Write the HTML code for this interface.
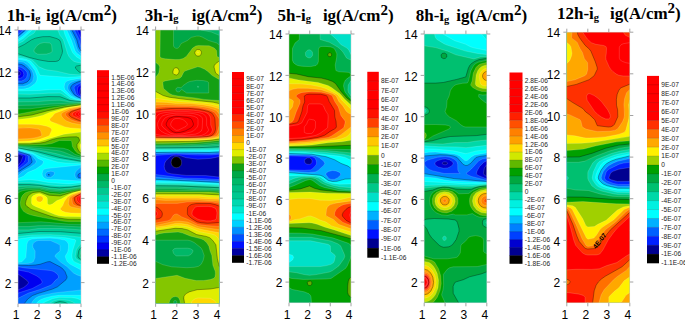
<!DOCTYPE html><html><head><meta charset="utf-8"><style>
html,body{margin:0;padding:0;background:#fff;overflow:hidden}
svg{display:block}
</style></head><body>
<svg width="685" height="322" viewBox="0 0 685 322" font-family="Liberation Sans, sans-serif">
<rect x="18" y="30" width="63.00" height="273.60" fill="#0000A0"/>
<path fill="#0000F0" d="M81.0,303.6 18.0,303.6 18.0,289.9 23.5,287.6 27.3,284.6 28.5,282.6 27.1,280.6 20.4,275.6 18.0,274.3 18.0,165.4 20.8,162.0 22.9,156.5 22.2,155.5 18.0,154.2 18.0,75.8 20.0,75.1 20.7,73.5 20.0,71.8 18.0,70.7 18.0,30.0 80.1,30.0 81.0,32.0 81.0,87.9 80.0,90.0 79.7,92.5 80.0,94.0 81.0,95.1 81.0,303.6Z"/>
<path fill="#0030FF" d="M81.0,303.6 18.0,303.6 18.0,293.1 32.1,288.6 40.6,284.1 42.2,282.6 41.9,281.1 40.8,279.1 37.0,276.1 28.7,272.1 18.0,269.9 18.0,168.0 24.4,162.0 25.4,159.5 25.8,156.5 25.3,155.5 24.4,155.0 18.0,153.2 18.0,78.4 20.0,78.4 22.1,77.5 23.4,76.0 23.8,74.5 23.4,72.5 22.0,70.5 20.0,69.3 18.0,68.8 18.0,32.2 20.8,30.0 77.2,30.0 81.0,38.4 81.0,84.8 78.0,87.0 77.4,90.0 78.0,94.0 81.0,96.3 81.0,303.6Z"/>
<path fill="#0068FF" d="M81.0,303.6 18.0,303.6 18.0,298.3 28.5,293.1 39.7,289.6 51.0,285.1 52.8,283.6 55.2,280.6 58.3,278.1 58.7,277.1 58.0,275.1 56.5,273.4 53.9,271.6 51.0,270.6 25.0,267.9 18.0,266.8 18.0,169.9 27.0,163.5 28.5,161.5 28.3,156.5 27.8,155.5 25.0,154.2 18.0,152.3 18.0,81.1 21.5,81.0 24.5,79.8 26.6,77.5 27.4,74.5 26.9,72.0 24.5,69.4 21.5,67.4 18.0,66.5 18.0,34.3 23.2,30.0 74.4,30.0 79.0,39.2 81.0,47.0 81.0,82.6 75.6,85.5 74.3,87.0 74.1,88.0 76.0,94.0 77.6,95.5 81.0,97.4 81.0,303.6Z"/>
<path fill="#00A0FF" d="M81.0,303.6 24.3,303.6 27.7,299.1 32.4,295.6 37.5,293.6 52.3,289.1 57.5,286.8 66.0,279.7 67.1,277.1 65.0,271.6 62.5,268.6 60.0,266.8 50.1,261.6 48.0,261.7 40.9,264.1 35.5,265.0 28.5,265.5 18.0,265.2 18.0,172.1 30.0,164.4 31.5,163.0 32.1,161.5 30.5,156.0 29.5,155.1 18.0,151.5 18.0,83.7 22.5,83.8 27.2,82.0 29.5,79.5 30.6,75.5 30.4,73.0 29.6,71.0 25.5,66.8 22.0,64.6 18.0,63.9 18.0,36.2 25.4,30.0 71.8,30.0 76.7,39.5 78.7,47.0 81.0,51.0 81.0,81.0 77.0,82.2 73.0,84.3 71.2,86.0 70.5,88.0 71.2,90.0 74.1,94.5 77.0,96.5 81.0,98.4 81.0,172.8 78.5,174.0 77.7,176.1 78.6,177.6 81.0,178.0 81.0,303.6ZM49.5,175.1 49.0,174.3 48.3,174.6 48.5,175.2 49.5,175.1Z"/>
<path fill="#00D0FF" d="M81.0,276.2 77.0,274.9 73.5,273.0 67.0,266.6 60.6,262.1 55.4,257.1 55.0,256.1 55.7,254.6 60.0,251.1 60.0,245.6 58.5,244.1 50.5,240.6 38.5,240.5 36.5,241.0 34.6,242.1 33.2,243.6 32.6,245.6 33.0,247.6 35.1,251.1 35.0,257.6 33.4,261.6 31.7,262.6 28.5,263.3 18.0,264.0 18.0,175.7 22.5,171.6 29.5,167.8 34.2,164.5 35.7,163.0 36.3,161.5 35.4,159.5 31.5,154.9 29.0,153.8 18.0,150.6 18.0,86.4 23.5,86.5 29.0,84.4 32.5,81.5 33.4,79.5 33.8,77.0 33.5,74.0 32.4,71.0 27.6,65.0 23.5,62.2 18.0,61.3 18.0,37.9 27.4,30.0 69.2,30.0 74.2,40.0 77.0,49.0 78.5,51.5 81.0,53.7 81.0,79.6 74.5,81.0 70.6,82.5 68.3,85.0 67.6,88.0 68.6,90.5 72.3,95.0 76.0,97.3 81.0,99.2 81.0,166.8 76.2,171.1 75.3,172.6 74.8,174.6 75.3,177.1 76.5,178.4 78.5,179.3 81.0,179.5 81.0,276.2ZM50.5,177.6 53.4,175.6 54.3,174.1 54.6,172.6 53.0,171.6 50.5,171.2 47.0,171.9 45.3,174.1 45.6,176.1 47.5,177.5 50.5,177.6ZM60.1,172.1 60.1,172.1ZM81.0,303.6 31.4,303.6 33.0,300.7 35.7,298.1 38.5,296.6 42.0,295.5 54.5,292.9 81.0,290.0 81.0,303.6Z"/>
<path fill="#00FFFF" d="M81.0,269.9 70.0,264.1 67.2,261.6 65.7,258.1 65.3,256.1 67.7,252.1 68.5,248.1 68.5,244.6 67.4,242.1 64.9,240.1 57.0,238.6 50.0,238.1 37.5,238.4 32.0,239.0 29.0,240.1 27.5,242.1 26.8,244.6 25.8,257.6 22.1,261.6 18.0,262.5 18.0,178.6 23.5,176.2 28.0,172.3 35.5,169.3 42.0,164.8 43.2,163.0 43.5,161.5 42.5,160.5 38.0,158.4 34.9,155.5 32.3,154.0 18.0,149.8 18.0,88.9 23.8,89.0 29.0,87.7 32.5,85.6 35.0,83.4 36.4,81.5 37.1,79.0 37.0,76.0 35.0,70.5 29.8,63.5 27.6,61.5 25.5,60.6 18.0,59.4 18.0,39.6 23.0,36.1 29.7,30.0 66.7,30.0 71.5,40.5 75.1,51.0 77.1,53.5 81.0,56.3 81.0,78.2 70.5,79.9 66.9,81.0 64.8,83.0 64.1,87.0 64.8,89.5 70.3,95.5 75.9,98.5 81.0,99.9 81.0,164.9 46.5,168.5 44.0,169.3 43.0,170.1 42.1,173.6 42.4,175.6 43.6,177.6 45.5,178.8 48.0,179.6 56.5,179.6 81.0,181.0 81.0,269.9ZM81.0,303.6 36.4,303.6 38.5,301.1 40.9,299.6 45.0,298.0 52.0,296.2 59.0,295.3 73.5,295.2 81.0,295.3 81.0,303.6Z"/>
<path fill="#00E8D8" d="M75.5,77.0 66.5,77.3 40.0,75.3 36.5,67.9 30.6,61.0 25.5,59.1 18.0,57.8 18.0,41.5 23.5,38.1 32.1,30.0 63.6,30.0 64.9,34.5 72.5,52.6 76.0,56.5 81.0,59.8 81.0,76.5 75.5,77.0ZM81.0,163.7 65.5,163.0 58.0,162.2 41.0,157.2 32.7,153.0 18.0,149.2 18.0,90.8 38.5,90.5 49.0,89.7 60.5,89.7 62.5,90.9 70.5,97.5 75.0,99.3 81.0,100.5 81.0,163.7ZM81.0,264.7 74.5,261.9 73.0,260.3 72.1,258.1 71.9,255.1 72.6,250.6 75.7,241.1 75.6,240.1 74.9,239.6 65.5,237.7 50.0,236.7 32.5,237.0 18.0,239.0 18.0,180.6 30.0,179.7 37.5,180.4 48.5,182.5 69.0,183.9 81.0,182.7 81.0,264.7ZM81.0,303.6 42.4,303.6 45.5,301.7 53.0,298.5 60.0,297.3 71.5,297.5 77.0,298.4 81.0,300.1 81.0,303.6Z"/>
<path fill="#00D8B0" d="M81.0,74.9 69.0,74.1 55.5,70.9 46.0,69.7 39.0,66.8 34.5,61.9 32.0,60.0 26.0,57.9 18.0,56.1 18.0,43.6 23.0,41.3 28.5,36.4 33.5,33.6 34.9,32.0 35.7,30.0 57.8,30.0 60.1,35.5 63.3,39.5 67.5,53.5 69.0,56.5 71.5,59.5 74.0,61.4 76.5,62.2 81.0,62.9 81.0,74.9ZM81.0,162.6 57.0,159.1 48.0,157.0 34.5,152.4 18.0,148.5 18.0,94.1 30.0,94.3 48.5,93.2 60.0,93.1 61.5,93.6 70.0,99.0 74.5,100.2 81.0,101.1 81.0,162.6ZM81.0,237.2 67.0,235.7 50.0,234.7 32.0,235.0 18.0,236.5 18.0,182.6 30.0,182.6 49.5,185.0 59.5,185.7 71.5,185.6 81.0,184.3 81.0,237.2ZM81.0,261.5 76.5,259.1 75.5,257.6 75.2,256.1 76.4,249.6 79.5,245.1 81.0,243.7 81.0,261.5ZM75.0,303.6 49.5,303.6 54.0,300.8 60.0,299.4 68.5,300.4 73.0,302.1 75.0,303.6Z"/>
<path fill="#00C890" d="M55.5,61.5 48.5,61.5 39.0,59.9 29.5,57.5 18.0,53.7 18.0,47.6 24.5,44.4 32.0,39.5 37.5,37.5 43.0,36.7 50.0,36.6 56.6,38.5 59.0,39.6 60.2,41.0 62.0,48.0 62.5,51.5 59.7,59.5 58.0,60.9 55.5,61.5ZM81.0,72.7 79.2,72.0 77.0,70.0 75.6,68.0 75.5,66.5 81.0,65.2 81.0,72.7ZM81.0,161.2 60.0,157.6 37.0,151.5 18.0,147.9 18.0,98.0 30.0,98.0 48.0,96.6 60.0,96.7 70.0,100.5 81.0,101.6 81.0,161.2ZM81.0,233.3 60.5,231.7 39.0,231.5 18.0,233.5 18.0,184.6 29.0,184.6 39.0,185.2 51.0,187.2 59.5,187.8 71.0,187.1 81.0,185.6 81.0,233.3ZM81.0,259.6 78.6,258.1 77.8,256.1 78.8,250.6 81.0,247.4 81.0,259.6ZM67.5,303.6 53.7,303.6 57.5,302.0 60.0,301.5 64.5,302.3 67.5,303.6Z"/>
<path fill="#00B868" d="M46.5,54.1 39.0,54.3 37.2,54.0 34.2,52.0 33.9,50.0 37.0,45.6 40.1,43.5 44.0,42.5 49.5,43.0 50.5,43.5 51.6,45.0 52.2,51.5 50.1,53.0 46.5,54.1ZM81.0,159.7 66.3,156.5 56.0,153.6 40.5,150.4 18.0,147.3 18.0,101.8 38.0,101.6 49.0,100.6 60.0,100.3 69.5,101.8 81.0,102.2 81.0,159.7ZM81.0,229.9 61.0,228.5 49.5,228.5 38.0,228.6 29.0,229.9 18.0,229.9 18.0,186.6 28.0,186.1 39.5,186.5 50.0,188.7 60.0,189.5 71.0,188.4 81.0,186.8 81.0,229.9ZM81.0,258.0 80.0,256.1 81.0,251.0 81.0,258.0Z"/>
<path fill="#00A840" d="M81.0,158.0 74.5,156.5 64.0,152.2 59.5,150.9 39.5,148.4 18.0,146.6 18.0,105.4 39.0,105.1 50.5,104.1 81.0,102.7 81.0,158.0ZM81.0,226.9 50.0,225.6 38.0,225.7 29.0,226.6 18.0,226.6 18.0,189.3 26.0,188.0 39.5,187.9 49.5,190.1 60.5,190.8 81.0,187.8 81.0,226.9Z"/>
<path fill="#00A000" d="M81.0,156.3 75.0,154.3 68.5,149.8 63.5,148.3 45.0,146.9 18.0,145.7 18.0,108.9 30.0,108.8 50.0,106.3 81.0,103.3 81.0,156.3ZM81.0,224.2 68.5,224.1 41.0,221.8 18.0,222.7 18.0,193.1 20.3,191.6 23.0,190.6 31.0,189.5 40.0,189.2 49.5,191.4 60.0,192.3 81.0,188.7 81.0,224.2Z"/>
<path fill="#55B800" d="M81.0,154.7 77.4,153.0 75.3,151.0 72.5,146.5 71.7,141.5 70.8,140.5 59.4,140.5 51.9,143.5 45.0,144.6 29.5,145.1 18.0,144.8 18.0,114.2 51.0,108.0 69.0,105.3 81.0,104.0 81.0,154.7ZM81.0,221.8 69.5,221.8 62.5,221.1 35.0,216.0 28.0,214.0 23.5,211.3 21.0,207.3 20.2,203.1 21.3,197.6 22.8,195.1 24.9,193.1 28.0,191.8 32.5,190.8 40.0,190.4 50.5,193.3 60.0,194.0 81.0,189.4 81.0,221.8Z"/>
<path fill="#A8DC00" d="M81.0,153.0 79.1,151.5 77.1,147.5 77.0,144.5 79.4,141.0 79.5,140.0 78.5,137.6 76.5,136.8 69.5,136.9 58.5,138.0 52.5,139.4 45.0,142.2 39.5,143.2 29.5,143.9 18.0,143.9 18.0,116.8 31.8,115.0 47.0,110.9 64.6,107.0 81.0,104.7 81.0,153.0ZM81.0,219.4 70.0,219.4 64.5,218.9 54.5,217.2 48.5,215.6 34.0,210.6 30.0,208.7 27.1,206.6 25.8,205.1 25.4,203.6 25.9,201.1 27.3,197.6 29.0,195.1 31.6,193.1 34.5,192.2 40.0,191.8 49.0,195.2 60.0,196.0 71.9,192.1 81.0,190.0 81.0,219.4Z"/>
<path fill="#FFFF00" d="M30.5,142.5 18.0,142.8 18.0,119.5 29.0,118.3 38.0,116.6 43.0,115.2 49.3,112.5 66.5,107.7 81.0,105.3 81.0,132.1 64.0,134.2 40.0,141.3 30.5,142.5ZM81.0,150.0 79.8,146.0 80.1,144.5 81.0,143.4 81.0,150.0ZM81.0,216.7 65.0,216.5 59.0,215.8 55.0,214.6 36.0,206.8 32.7,205.1 31.8,204.1 31.4,202.6 31.6,197.6 33.0,195.7 36.0,194.2 39.0,193.6 41.0,194.0 45.2,196.1 47.0,197.6 47.4,199.1 47.5,203.8 48.3,204.6 50.0,204.8 52.3,204.1 56.9,200.6 61.0,199.1 69.0,194.4 73.7,192.6 81.0,190.6 81.0,216.7Z"/>
<path fill="#FFC000" d="M81.0,128.7 70.5,128.0 65.0,126.9 51.5,121.8 49.9,120.5 49.6,119.0 52.8,116.0 54.1,114.0 55.7,113.0 69.3,108.0 81.0,106.0 81.0,128.7ZM29.5,141.0 18.0,141.5 18.0,124.2 31.5,124.2 39.5,124.7 47.0,126.3 50.0,127.6 51.6,129.0 51.7,130.5 49.3,135.5 48.7,136.0 39.5,139.3 29.5,141.0ZM81.0,213.3 71.0,213.0 65.5,212.2 62.2,211.1 60.0,209.1 62.7,205.6 64.3,201.6 67.4,197.1 71.5,194.6 81.0,191.2 81.0,213.3ZM40.5,202.1 38.0,201.8 36.4,200.1 36.3,197.6 38.0,196.2 41.0,196.1 42.5,197.0 43.2,198.1 42.6,200.6 40.5,202.1Z"/>
<path fill="#FF9000" d="M81.0,124.7 72.0,123.1 66.6,121.0 64.4,119.5 62.1,117.0 61.2,115.0 61.4,113.5 64.5,111.5 70.5,108.9 81.0,106.7 81.0,124.7ZM30.5,138.6 18.0,139.0 18.0,128.3 23.0,127.8 31.0,127.9 37.5,128.7 40.3,130.0 41.7,134.0 41.8,135.5 41.2,136.0 36.8,137.5 30.5,138.6ZM81.0,208.9 71.0,206.9 69.1,205.6 68.4,203.6 69.3,198.1 70.0,197.1 73.4,195.1 81.0,191.9 81.0,208.9Z"/>
<path fill="#FF6400" d="M81.0,122.7 75.0,121.3 70.5,119.5 66.0,116.0 65.3,114.5 65.5,113.5 67.3,112.0 71.5,110.0 81.0,107.5 81.0,122.7ZM81.0,207.1 76.3,206.1 73.1,204.6 72.4,203.1 71.8,198.6 72.1,197.6 73.2,196.6 81.0,192.7 81.0,207.1Z"/>
<path fill="#FF3800" d="M81.0,121.1 76.5,119.6 71.1,117.0 69.0,115.0 69.0,113.5 72.8,111.0 81.0,108.4 81.0,121.1ZM81.0,205.8 78.0,204.8 76.2,203.6 74.7,201.1 74.3,198.6 74.5,197.6 75.6,196.6 81.0,193.6 81.0,205.8Z"/>
<path fill="#FF1000" d="M81.0,119.5 73.5,116.1 72.2,114.5 72.4,113.5 75.2,111.5 81.0,109.5 81.0,119.5ZM81.0,204.5 77.9,202.1 76.9,200.6 76.4,198.6 76.7,197.6 77.7,196.6 81.0,194.6 81.0,204.5Z"/>
<path fill="#FF0000" d="M81.0,118.0 76.7,116.0 75.6,115.0 75.3,114.0 76.6,112.5 81.0,110.6 81.0,118.0ZM81.0,202.6 79.0,200.6 78.4,198.6 79.0,197.1 81.0,195.6 81.0,202.6Z"/>
<path fill="#FF0000" d="M81.0,116.6 79.1,115.5 78.3,114.0 78.9,113.0 81.0,111.8 81.0,116.6ZM81.0,200.6 80.2,198.6 81.0,196.9 81.0,200.6Z"/>
<path fill="none" stroke="#fff" stroke-opacity="0.3" stroke-width="0.5" d="M80.1,30.0 81.0,32.0M18.0,75.8 20.0,75.1 20.7,73.5 20.0,71.8 18.0,70.7M81.0,87.9 80.0,90.0 79.7,92.5 80.0,94.0 81.0,95.1M18.0,165.4 20.8,162.0 22.9,156.5 22.2,155.5 18.0,154.2M18.0,289.9 23.5,287.6 27.3,284.6 28.5,282.6 27.1,280.6 20.4,275.6 18.0,274.3M18.0,32.2 20.8,30.0M77.2,30.0 81.0,38.4M18.0,78.4 20.0,78.4 22.1,77.5 23.4,76.0 23.8,74.5 23.4,72.5 22.0,70.5 20.0,69.3 18.0,68.8M81.0,84.8 78.0,87.0 77.4,90.0 78.0,94.0 81.0,96.3M18.0,168.0 24.4,162.0 25.4,159.5 25.8,156.5 25.3,155.5 24.4,155.0 18.0,153.2M18.0,293.1 32.1,288.6 40.6,284.1 42.2,282.6 41.9,281.1 40.8,279.1 37.0,276.1 28.7,272.1 18.0,269.9M18.0,34.3 23.2,30.0M74.4,30.0 79.0,39.2 81.0,47.0M18.0,81.1 21.5,81.0 24.5,79.8 26.6,77.5 27.4,74.5 26.9,72.0 24.5,69.4 21.5,67.4 18.0,66.5M81.0,82.6 75.6,85.5 74.3,87.0 74.1,88.0 76.0,94.0 77.6,95.5 81.0,97.4M18.0,169.9 27.0,163.5 28.5,161.5 28.3,156.5 27.8,155.5 25.0,154.2 18.0,152.3M18.0,298.3 28.5,293.1 39.7,289.6 51.0,285.1 52.8,283.6 55.2,280.6 58.3,278.1 58.7,277.1 58.0,275.1 56.5,273.4 53.9,271.6 51.0,270.6 25.0,267.9 18.0,266.8M18.0,37.9 27.4,30.0M69.2,30.0 74.2,40.0 77.0,49.0 78.5,51.5 81.0,53.7M18.0,86.4 23.5,86.5 26.5,85.7 29.5,84.1 32.8,81.0 33.8,76.5 33.3,73.5 32.1,70.5 27.5,64.9 23.5,62.2 18.0,61.3M81.0,79.6 74.5,81.0 70.6,82.5 68.3,85.0 67.6,88.0 68.6,90.5 72.3,95.0 76.0,97.3 81.0,99.2M18.0,175.7 22.5,171.6 29.5,167.8 34.2,164.5 35.7,163.0 36.3,161.5 35.4,159.5 31.5,154.9 29.0,153.8 18.0,150.6M81.0,166.8 76.2,171.1 75.3,172.6 74.8,174.6 75.3,177.1 76.5,178.4 78.5,179.3 81.0,179.5M50.5,177.6 53.4,175.6 54.3,174.1 54.6,172.6 53.0,171.6 50.5,171.2 47.0,171.9 45.3,174.1 45.6,176.1 47.5,177.5 50.5,177.6M60.1,172.1 60.1,172.1M81.0,276.2 77.0,274.9 73.5,273.0 67.0,266.6 60.6,262.1 55.4,257.1 55.0,256.1 55.7,254.6 60.0,251.1 60.0,245.6 58.5,244.1 50.5,240.6 38.5,240.5 36.5,241.0 34.6,242.1 33.2,243.6 32.6,245.6 33.0,247.6 35.1,251.1 35.0,257.6 33.4,261.6 31.7,262.6 28.5,263.3 18.0,264.0M31.4,303.6 33.0,300.7 35.7,298.1 38.5,296.6 42.0,295.5 54.5,292.9 81.0,290.0M18.0,39.6 23.0,36.1 29.7,30.0M66.7,30.0 71.5,40.5 75.1,51.0 77.1,53.5 81.0,56.3M18.0,88.9 21.5,89.2 25.5,88.8 28.3,88.0 31.0,86.5 34.0,84.4 36.2,82.0 37.0,80.0 37.2,77.5 36.7,75.0 34.7,70.0 29.0,62.7 25.4,60.5 18.0,59.4M81.0,78.2 70.5,79.9 66.9,81.0 64.8,83.0 64.1,87.0 64.8,89.5 70.3,95.5 75.9,98.5 81.0,99.9M18.0,178.6 23.5,176.2 28.0,172.3 35.5,169.3 42.0,164.8 43.2,163.0 43.5,161.5 42.5,160.5 38.0,158.4 34.9,155.5 32.3,154.0 18.0,149.8M81.0,164.9 46.5,168.5 44.0,169.3 43.0,170.1 42.1,173.6 42.4,175.6 43.6,177.6 45.5,178.8 48.0,179.6 56.5,179.6 81.0,181.0M81.0,269.9 70.0,264.1 67.2,261.6 65.7,258.1 65.3,256.1 67.7,252.1 68.5,248.1 68.5,244.6 67.4,242.1 64.9,240.1 57.0,238.6 50.0,238.1 37.5,238.4 32.0,239.0 29.0,240.1 27.5,242.1 26.8,244.6 25.8,257.6 22.1,261.6 18.0,262.5M36.4,303.6 38.5,301.1 41.0,299.5 45.5,297.8 53.0,296.0 59.5,295.3 81.0,295.3M18.0,41.5 23.5,38.1 32.1,30.0M63.6,30.0 64.9,34.5 72.5,52.6 76.0,56.5 81.0,59.8M81.0,76.5 68.0,77.3 40.0,75.3 36.5,67.9 30.6,61.0 25.5,59.1 18.0,57.8M18.0,90.8 38.5,90.5 49.0,89.7 60.5,89.7 62.5,90.9 70.5,97.5 75.0,99.3 81.0,100.5M81.0,163.7 65.5,163.0 58.0,162.2 41.0,157.2 32.7,153.0 18.0,149.2M18.0,180.6 30.0,179.7 37.5,180.4 48.5,182.5 69.0,183.9 81.0,182.7M81.0,264.7 74.5,261.9 73.0,260.3 72.1,258.1 71.9,255.1 72.6,250.6 75.7,241.1 75.6,240.1 74.9,239.6 65.5,237.7 50.0,236.7 32.5,237.0 18.0,239.0M42.4,303.6 45.5,301.7 52.5,298.7 58.5,297.4 73.0,297.7 77.0,298.4 81.0,300.1M18.0,43.6 23.0,41.3 28.5,36.4 33.5,33.6 34.9,32.0 35.7,30.0M57.8,30.0 60.1,35.5 63.3,39.5 67.5,53.5 69.0,56.5 71.5,59.5 74.0,61.4 76.5,62.2 81.0,62.9M81.0,74.9 70.0,74.3 56.0,71.0 48.0,70.1 44.0,69.1 39.0,66.8 34.1,61.5 31.5,59.7 24.5,57.4 18.0,56.1M18.0,94.1 30.0,94.3 48.5,93.2 60.0,93.1 61.5,93.6 70.0,99.0 74.5,100.2 81.0,101.1M81.0,162.6 57.0,159.1 48.0,157.0 34.5,152.4 18.0,148.5M18.0,182.6 30.0,182.6 49.5,185.0 59.5,185.7 71.5,185.6 81.0,184.3M81.0,237.2 67.0,235.7 50.0,234.7 32.0,235.0 18.0,236.5M81.0,261.5 76.5,259.1 75.5,257.6 75.2,256.1 76.4,249.6 79.5,245.1 81.0,243.7M49.5,303.6 54.0,300.8 60.0,299.4 68.5,300.4 72.5,301.8 75.2,303.6M46.5,54.1 39.0,54.3 37.2,54.0 34.2,52.0 33.9,50.0 37.0,45.6 40.1,43.5 44.0,42.5 49.5,43.0 50.5,43.5 51.6,45.0 52.2,51.5 50.1,53.0 46.5,54.1M18.0,101.8 38.0,101.6 49.0,100.6 60.0,100.3 69.5,101.8 81.0,102.2M81.0,159.7 66.3,156.5 56.0,153.6 40.5,150.4 18.0,147.3M18.0,186.6 28.0,186.1 39.5,186.5 50.0,188.7 60.0,189.5 71.0,188.4 81.0,186.8M81.0,229.9 61.0,228.5 49.5,228.5 38.0,228.6 29.0,229.9 18.0,229.9M81.0,258.0 80.0,256.1 81.0,251.0M18.0,105.4 39.0,105.1 50.5,104.1 81.0,102.7M81.0,158.0 74.5,156.5 64.0,152.2 59.5,150.9 39.5,148.4 18.0,146.6M18.0,189.3 26.0,188.0 39.5,187.9 49.5,190.1 60.5,190.8 81.0,187.8M81.0,226.9 50.0,225.6 38.0,225.7 29.0,226.6 18.0,226.6M18.0,108.9 30.0,108.8 50.0,106.3 81.0,103.3M81.0,156.3 75.0,154.3 68.5,149.8 63.5,148.3 45.0,146.9 18.0,145.7M18.0,193.1 20.3,191.6 23.0,190.6 31.0,189.5 40.0,189.2 49.5,191.4 60.0,192.3 81.0,188.7M81.0,224.2 68.5,224.1 41.0,221.8 18.0,222.7M18.0,114.2 51.0,108.0 69.0,105.3 81.0,104.0M81.0,154.7 77.4,153.0 75.3,151.0 72.5,146.5 71.7,141.5 70.8,140.5 59.4,140.5 51.9,143.5 45.0,144.6 29.5,145.1 18.0,144.8M81.0,221.8 69.5,221.8 63.5,221.3 43.5,217.7 30.5,214.8 26.0,213.0 23.0,210.8 20.9,207.1 20.2,203.6 21.1,198.1 22.8,195.1 25.5,192.7 29.5,191.4 35.0,190.6 40.0,190.4 50.5,193.3 60.0,194.0 81.0,189.4M18.0,119.5 29.0,118.3 38.0,116.6 43.0,115.2 49.3,112.5 66.5,107.7 81.0,105.3M81.0,132.1 63.5,134.3 38.0,141.7 29.5,142.6 18.0,142.8M81.0,150.0 79.8,146.0 80.1,144.5 81.0,143.4M81.0,216.7 67.5,216.7 60.9,216.1 56.4,215.1 33.5,205.6 31.8,204.1 31.3,200.6 31.6,197.6 33.0,195.7 37.0,193.9 40.0,193.7 44.3,195.6 46.5,197.1 47.4,198.6 47.6,204.1 49.0,204.8 50.5,204.7 52.3,204.1 56.9,200.6 61.0,199.1 68.7,194.6 73.7,192.6 81.0,190.6M81.0,128.7 70.5,128.0 65.0,126.9 59.5,124.5 51.9,122.0 50.3,121.0 49.5,119.5 50.0,118.5 53.0,115.8 54.1,114.0 55.7,113.0 69.3,108.0 81.0,106.0M18.0,124.2 34.0,124.3 42.5,125.2 46.5,126.2 49.9,127.5 51.3,128.5 51.8,130.0 49.3,135.5 45.2,137.5 39.5,139.3 32.5,140.7 18.0,141.5M81.0,213.3 71.0,213.0 65.5,212.2 62.2,211.1 60.0,209.1 62.7,205.6 64.3,201.6 67.4,197.1 71.5,194.6 81.0,191.2M40.5,202.1 38.0,201.8 36.4,200.1 36.3,197.6 38.0,196.2 41.0,196.1 42.5,197.0 43.2,198.1 42.6,200.6 40.5,202.1M81.0,124.7 72.0,123.1 67.0,121.2 64.5,119.6 62.4,117.5 61.3,115.5 61.1,114.0 63.5,112.0 70.2,109.0 81.0,106.7M18.0,128.3 29.5,127.8 38.5,129.0 40.5,130.4 41.8,135.0 41.5,135.8 40.3,136.5 34.2,138.0 27.5,138.8 18.0,139.0M81.0,208.9 71.0,206.9 69.1,205.6 68.4,203.6 69.3,198.1 70.0,197.1 73.4,195.1 81.0,191.9M81.0,122.7 75.0,121.3 71.0,119.7 66.4,116.5 65.3,114.0 66.6,112.5 70.5,110.4 76.1,108.5 81.0,107.5M81.0,207.1 76.3,206.1 73.1,204.6 72.4,203.1 71.8,198.6 72.1,197.6 73.2,196.6 81.0,192.7M81.0,119.5 74.1,116.5 72.4,115.0 72.2,114.0 72.8,113.0 74.5,111.9 81.0,109.5M81.0,204.5 77.9,202.1 76.9,200.6 76.4,198.6 76.7,197.6 77.7,196.6 81.0,194.6M81.0,118.0 76.7,116.0 75.6,115.0 75.3,114.0 76.6,112.5 81.0,110.6M81.0,202.6 79.0,200.6 78.4,198.6 79.0,197.1 81.0,195.6M81.0,116.6 79.1,115.5 78.3,114.0 78.9,113.0 81.0,111.8M81.0,200.6 80.2,198.6 81.0,196.9"/>
<path fill="none" stroke="#000" stroke-opacity="0.55" stroke-width="0.6" d="M18.0,36.2 25.4,30.0M71.8,30.0 76.7,39.5 78.7,47.0 81.0,51.0M18.0,83.7 22.5,83.8 27.2,82.0 29.8,79.0 30.6,75.0 29.6,71.0 25.1,66.5 21.7,64.5 18.0,63.9M81.0,81.0 77.0,82.2 73.0,84.3 71.2,86.0 70.5,88.0 71.2,90.0 74.1,94.5 77.0,96.5 81.0,98.4M18.0,172.1 30.0,164.4 31.5,163.0 32.1,161.5 30.5,156.0 29.5,155.1 18.0,151.5M81.0,172.8 78.5,174.0 77.7,176.1 78.6,177.6 81.0,178.0M49.5,175.1 49.0,174.3 48.3,174.6 48.5,175.2 49.5,175.1M24.3,303.6 27.7,299.1 32.4,295.6 37.5,293.6 52.3,289.1 57.5,286.8 66.0,279.7 66.9,278.1 67.0,276.6 65.0,271.6 62.5,268.6 60.0,266.8 50.0,261.6 47.5,261.8 40.0,264.3 35.5,265.0 28.5,265.5 18.0,265.2M18.0,47.6 24.5,44.4 31.5,39.8 35.5,38.1 42.5,36.7 50.0,36.6 57.0,38.6 60.0,40.5 61.0,43.4 62.5,51.0 62.1,53.5 59.7,59.5 58.0,60.9 55.5,61.5 48.5,61.5 39.0,59.9 29.5,57.5 18.0,53.7M81.0,72.7 79.2,72.0 77.5,70.5 75.8,68.5 75.3,67.0 76.5,66.0 81.0,65.2M18.0,98.0 30.0,98.0 48.0,96.6 60.0,96.7 70.0,100.5 81.0,101.6M81.0,161.2 60.0,157.6 37.0,151.5 18.0,147.9M18.0,184.6 29.0,184.6 39.0,185.2 51.0,187.2 59.5,187.8 71.0,187.1 81.0,185.6M81.0,233.3 60.5,231.7 39.0,231.5 18.0,233.5M81.0,259.6 78.6,258.1 77.8,256.1 78.8,250.6 81.0,247.4M53.7,303.6 57.5,302.0 60.0,301.5 64.0,302.1 67.6,303.6M18.0,116.8 31.8,115.0 47.0,110.9 64.6,107.0 81.0,104.7M81.0,153.0 79.1,151.5 77.1,147.5 77.0,144.5 79.4,141.0 79.5,140.0 78.5,137.6 76.5,136.8 69.5,136.9 58.5,138.0 52.5,139.4 45.0,142.2 39.5,143.2 29.5,143.9 18.0,143.9M81.0,219.4 68.0,219.3 58.5,218.0 51.5,216.5 31.6,209.6 27.0,206.5 25.8,205.1 25.4,203.6 26.1,200.6 27.8,196.6 30.1,194.1 33.0,192.5 40.0,191.8 49.0,195.2 60.0,196.0 71.9,192.1 81.0,190.0M81.0,121.1 77.0,119.8 71.5,117.3 69.4,115.5 68.8,114.0 70.0,112.5 72.5,111.1 81.0,108.4M81.0,205.8 78.0,204.8 76.2,203.6 74.7,201.1 74.3,198.6 74.5,197.6 75.6,196.6 81.0,193.6"/>
<path d="M18.0,30v-3.5M18.0,303.6v3.5M39.0,30v-3.5M39.0,303.6v3.5M60.0,30v-3.5M60.0,303.6v3.5M81.0,30v-3.5M81.0,303.6v3.5M18,282.6h-3.5M81,282.6h3.5M18,240.5h-3.5M81,240.5h3.5M18,198.4h-3.5M81,198.4h3.5M18,156.3h-3.5M81,156.3h3.5M18,114.2h-3.5M81,114.2h3.5M18,72.1h-3.5M81,72.1h3.5M18,30.0h-3.5M81,30.0h3.5" stroke="#8a8a8a" stroke-width="0.8" fill="none"/>
<rect x="18" y="30" width="63.00" height="273.60" fill="none" stroke="#c8c8c8" stroke-width="0.5"/>
<text x="11.4" y="287.8" text-anchor="end" font-size="12">2</text>
<text x="11.4" y="245.7" text-anchor="end" font-size="12">4</text>
<text x="11.4" y="203.6" text-anchor="end" font-size="12">6</text>
<text x="11.4" y="161.5" text-anchor="end" font-size="12">8</text>
<text x="11.4" y="119.4" text-anchor="end" font-size="12">10</text>
<text x="11.4" y="77.3" text-anchor="end" font-size="12">12</text>
<text x="11.4" y="35.2" text-anchor="end" font-size="12">14</text>
<text x="16.0" y="318.6" text-anchor="middle" font-size="12">1</text>
<text x="37.0" y="318.6" text-anchor="middle" font-size="12">2</text>
<text x="58.0" y="318.6" text-anchor="middle" font-size="12">3</text>
<text x="79.0" y="318.6" text-anchor="middle" font-size="12">4</text>
<rect x="97" y="70.20" width="12.00" height="7.20" fill="#FF0000"/>
<rect x="97" y="77.10" width="12.00" height="7.20" fill="#FF0000"/>
<rect x="97" y="84.01" width="12.00" height="7.20" fill="#FF0000"/>
<rect x="97" y="90.91" width="12.00" height="7.20" fill="#FF0000"/>
<rect x="97" y="97.81" width="12.00" height="7.20" fill="#FF0000"/>
<rect x="97" y="104.72" width="12.00" height="7.20" fill="#FF0000"/>
<rect x="97" y="111.62" width="12.00" height="7.20" fill="#FF1000"/>
<rect x="97" y="118.53" width="12.00" height="7.20" fill="#FF3800"/>
<rect x="97" y="125.43" width="12.00" height="7.20" fill="#FF6400"/>
<rect x="97" y="132.33" width="12.00" height="7.20" fill="#FF9000"/>
<rect x="97" y="139.24" width="12.00" height="7.20" fill="#FFC000"/>
<rect x="97" y="146.14" width="12.00" height="7.20" fill="#FFFF00"/>
<rect x="97" y="153.04" width="12.00" height="7.20" fill="#A8DC00"/>
<rect x="97" y="159.95" width="12.00" height="7.20" fill="#55B800"/>
<rect x="97" y="166.85" width="12.00" height="7.20" fill="#00A000"/>
<rect x="97" y="173.75" width="12.00" height="7.20" fill="#00A840"/>
<rect x="97" y="180.66" width="12.00" height="7.20" fill="#00B868"/>
<rect x="97" y="187.56" width="12.00" height="7.20" fill="#00C890"/>
<rect x="97" y="194.46" width="12.00" height="7.20" fill="#00D8B0"/>
<rect x="97" y="201.37" width="12.00" height="7.20" fill="#00E8D8"/>
<rect x="97" y="208.27" width="12.00" height="7.20" fill="#00FFFF"/>
<rect x="97" y="215.18" width="12.00" height="7.20" fill="#00D0FF"/>
<rect x="97" y="222.08" width="12.00" height="7.20" fill="#00A0FF"/>
<rect x="97" y="228.98" width="12.00" height="7.20" fill="#0068FF"/>
<rect x="97" y="235.89" width="12.00" height="7.20" fill="#0030FF"/>
<rect x="97" y="242.79" width="12.00" height="7.20" fill="#0000F0"/>
<rect x="97" y="249.69" width="12.00" height="7.20" fill="#0000A0"/>
<rect x="97" y="256.60" width="12.00" height="7.20" fill="#000000"/>
<path d="M97,77.10h12.00M97,84.01h12.00M97,90.91h12.00M97,97.81h12.00M97,104.72h12.00M97,111.62h12.00M97,118.53h12.00M97,125.43h12.00M97,132.33h12.00M97,139.24h12.00M97,146.14h12.00M97,153.04h12.00M97,159.95h12.00M97,166.85h12.00M97,173.75h12.00M97,180.66h12.00M97,187.56h12.00M97,194.46h12.00M97,201.37h12.00M97,208.27h12.00M97,215.18h12.00M97,222.08h12.00M97,228.98h12.00M97,235.89h12.00M97,242.79h12.00M97,249.69h12.00M97,256.60h12.00" stroke="#000" stroke-opacity="0.25" stroke-width="0.6"/>
<text x="111.3" y="79.50" font-size="6.6" fill="#222">1.5E-06</text>
<text x="111.3" y="86.41" font-size="6.6" fill="#222">1.4E-06</text>
<text x="111.3" y="93.31" font-size="6.6" fill="#222">1.3E-06</text>
<text x="111.3" y="100.21" font-size="6.6" fill="#222">1.2E-06</text>
<text x="111.3" y="107.12" font-size="6.6" fill="#222">1.1E-06</text>
<text x="111.3" y="114.02" font-size="6.6" fill="#222">1E-06</text>
<text x="111.3" y="120.93" font-size="6.6" fill="#222">9E-07</text>
<text x="111.3" y="127.83" font-size="6.6" fill="#222">8E-07</text>
<text x="111.3" y="134.73" font-size="6.6" fill="#222">7E-07</text>
<text x="111.3" y="141.64" font-size="6.6" fill="#222">6E-07</text>
<text x="111.3" y="148.54" font-size="6.6" fill="#222">5E-07</text>
<text x="111.3" y="155.44" font-size="6.6" fill="#222">4E-07</text>
<text x="111.3" y="162.35" font-size="6.6" fill="#222">3E-07</text>
<text x="111.3" y="169.25" font-size="6.6" fill="#222">2E-07</text>
<text x="111.3" y="176.15" font-size="6.6" fill="#222">1E-07</text>
<text x="111.3" y="183.06" font-size="6.6" fill="#222">0</text>
<text x="111.3" y="189.96" font-size="6.6" fill="#222">-1E-07</text>
<text x="111.3" y="196.86" font-size="6.6" fill="#222">-2E-07</text>
<text x="111.3" y="203.77" font-size="6.6" fill="#222">-3E-07</text>
<text x="111.3" y="210.67" font-size="6.6" fill="#222">-4E-07</text>
<text x="111.3" y="217.58" font-size="6.6" fill="#222">-5E-07</text>
<text x="111.3" y="224.48" font-size="6.6" fill="#222">-6E-07</text>
<text x="111.3" y="231.38" font-size="6.6" fill="#222">-7E-07</text>
<text x="111.3" y="238.29" font-size="6.6" fill="#222">-8E-07</text>
<text x="111.3" y="245.19" font-size="6.6" fill="#222">-9E-07</text>
<text x="111.3" y="252.09" font-size="6.6" fill="#222">-1E-06</text>
<text x="111.3" y="259.00" font-size="6.6" fill="#222">-1.1E-06</text>
<text x="111.3" y="265.90" font-size="6.6" fill="#222">-1.2E-06</text>
<text x="6.8" y="20.5" font-family="Liberation Serif, serif" font-weight="bold" font-size="17">1h-i<tspan font-size="10.5" dy="1.6">g</tspan></text><text x="46.1" y="20.5" font-family="Liberation Serif, serif" font-weight="bold" font-size="17">ig(A/cm<tspan font-size="15" dy="-5.8">2</tspan><tspan dy="5.8">)</tspan></text>
<rect x="155.6" y="30" width="63.60" height="273.30" fill="#000000"/>
<path fill="#0000A0" d="M219.2,303.3 155.6,303.3 155.6,30.0 219.2,30.0 219.2,303.3ZM178.3,167.4 180.0,166.4 181.2,164.9 181.6,162.9 181.3,160.4 180.1,158.5 178.6,157.3 176.6,156.7 174.6,157.0 173.1,157.9 171.6,159.9 171.1,162.4 171.5,164.4 172.6,166.2 174.1,167.2 176.1,167.8 178.3,167.4Z"/>
<path fill="#0010FF" d="M219.2,303.3 155.6,303.3 155.6,30.0 219.2,30.0 219.2,156.7 210.7,158.4 197.7,159.2 186.1,157.7 179.1,155.3 173.6,155.3 170.6,156.4 165.8,160.9 164.6,163.4 164.2,166.4 164.6,168.9 166.2,171.9 167.9,172.9 171.1,173.8 186.1,175.4 205.7,175.6 219.2,177.1 219.2,303.3Z"/>
<path fill="#0050FF" d="M211.2,154.9 192.7,154.8 176.1,154.0 155.6,155.4 155.6,30.0 219.2,30.0 219.2,154.3 211.2,154.9ZM219.2,303.3 155.6,303.3 155.6,174.5 184.1,178.1 201.7,178.5 219.2,179.6 219.2,303.3Z"/>
<path fill="#0090FF" d="M214.7,153.4 196.7,153.6 176.1,153.1 155.6,153.7 155.6,30.0 219.2,30.0 219.2,153.1 214.7,153.4ZM219.2,303.3 155.6,303.3 155.6,177.2 181.1,179.4 219.2,181.0 219.2,303.3Z"/>
<path fill="#00D0FF" d="M212.7,152.4 155.6,152.5 155.6,30.0 219.2,30.0 219.2,152.0 212.7,152.4ZM219.2,303.3 155.6,303.3 155.6,179.3 219.2,182.4 219.2,303.3Z"/>
<path fill="#00FFFF" d="M210.7,151.4 155.6,151.4 155.6,30.0 219.2,30.0 219.2,150.9 210.7,151.4ZM219.2,303.3 155.6,303.3 155.6,180.9 190.0,181.9 219.2,183.6 219.2,303.3Z"/>
<path fill="#00E8D0" d="M217.2,149.9 208.2,150.3 155.6,150.4 155.6,30.0 219.2,30.0 219.2,149.8 217.2,149.9ZM219.2,303.3 155.6,303.3 155.6,182.4 188.7,183.0 219.2,184.6 219.2,303.3Z"/>
<path fill="#00D8B0" d="M185.1,149.4 155.6,149.5 155.6,30.0 219.2,30.0 219.2,148.8 185.1,149.4ZM219.2,303.3 155.6,303.3 155.6,183.7 187.7,184.2 219.2,185.6 219.2,303.3Z"/>
<path fill="#00C890" d="M204.2,148.4 155.6,148.7 155.6,30.0 219.2,30.0 219.2,147.8 204.2,148.4ZM219.2,303.3 155.6,303.3 155.6,184.8 183.1,185.1 219.2,186.6 219.2,303.3Z"/>
<path fill="#00C080" d="M177.1,147.9 155.6,147.9 155.6,30.0 219.2,30.0 219.2,146.8 177.1,147.9ZM219.2,303.3 155.6,303.3 155.6,185.8 179.1,186.0 219.2,187.7 219.2,303.3Z"/>
<path fill="#00B868" d="M181.1,146.9 155.6,147.1 155.6,30.0 219.2,30.0 219.2,145.6 200.7,146.6 181.1,146.9ZM219.2,303.3 155.6,303.3 155.6,187.0 178.1,187.1 195.7,188.2 210.2,188.3 219.2,188.9 219.2,303.3Z"/>
<path fill="#00A848" d="M181.6,145.9 155.6,146.2 155.6,30.0 200.8,30.0 211.2,32.0 219.2,35.3 219.2,144.0 200.7,145.5 181.6,145.9ZM198.3,87.5 198.7,86.5 197.7,86.2 197.3,87.0 198.3,87.5ZM219.2,303.3 155.6,303.3 155.6,188.4 177.6,188.4 192.7,189.4 210.2,189.5 219.2,190.1 219.2,303.3ZM188.4,255.8 191.2,254.2 192.8,251.8 192.9,250.3 190.6,248.8 187.7,248.2 176.1,248.3 174.1,248.8 172.7,250.3 173.5,253.3 176.1,255.9 188.4,255.8Z"/>
<path fill="#14A014" d="M178.6,144.9 155.6,145.0 155.6,30.0 173.5,30.0 173.5,46.0 174.5,47.5 176.1,48.3 177.6,48.2 178.6,47.6 180.6,44.1 182.1,42.8 187.4,40.5 191.7,37.1 196.2,36.1 199.2,36.1 202.1,37.0 208.6,40.5 216.7,43.0 219.2,44.9 219.2,142.2 200.7,144.1 178.6,144.9ZM208.7,93.0 208.6,82.5 207.2,81.4 203.2,80.6 196.7,80.3 189.8,81.5 187.5,82.5 183.2,85.5 181.1,87.8 177.6,87.3 176.5,88.0 175.8,89.5 176.6,91.4 178.1,92.0 179.8,91.5 181.6,89.4 186.6,93.0 208.7,93.0ZM219.2,303.3 176.8,303.3 176.8,301.3 175.1,300.3 173.7,301.3 173.8,303.3 155.6,303.3 155.6,261.3 162.6,264.6 171.6,266.8 186.6,267.7 194.2,267.3 198.5,266.3 201.2,264.3 203.2,260.3 204.2,255.8 202.4,250.3 200.9,247.8 194.2,242.5 190.6,240.8 187.7,240.2 155.6,240.2 155.6,190.2 209.7,190.7 219.2,191.4 219.2,303.3Z"/>
<path fill="#84C600" d="M163.1,143.4 155.6,143.4 155.6,77.3 158.8,73.0 159.7,67.0 158.8,65.0 155.6,62.4 155.6,30.0 160.3,30.0 160.0,56.5 161.3,58.0 165.1,58.8 175.1,59.6 179.1,59.5 183.1,58.6 186.2,56.5 192.7,48.0 195.7,46.1 198.2,45.6 209.2,45.8 214.2,48.0 216.6,50.5 217.1,56.5 219.2,57.6 219.2,79.5 212.2,75.5 207.9,71.5 204.7,69.2 200.2,67.2 197.7,66.8 185.0,71.0 183.8,72.0 181.3,77.0 179.2,78.5 165.1,80.9 163.7,81.5 162.8,82.5 163.5,88.5 169.4,93.5 172.6,94.9 178.1,96.0 195.2,97.9 204.0,99.4 219.2,100.5 219.2,140.4 210.2,141.6 195.2,142.7 163.1,143.4ZM219.2,303.3 180.3,303.3 179.8,300.3 178.8,298.3 177.6,297.1 175.6,296.5 173.1,297.0 171.3,298.3 169.9,300.3 169.0,303.3 155.6,303.3 155.6,278.5 177.1,275.3 185.1,278.3 196.2,280.6 203.7,280.5 210.2,279.6 213.9,278.3 215.0,276.8 215.4,273.8 215.2,271.3 212.9,265.3 211.8,255.3 210.0,250.8 208.9,246.3 206.8,242.8 203.7,240.0 201.0,238.8 190.7,236.2 182.6,233.0 178.1,232.0 164.1,232.9 159.6,233.7 155.6,235.0 155.6,192.0 209.2,192.1 219.2,192.9 219.2,303.3Z"/>
<path fill="#E0EE00" d="M199.2,56.1 196.7,56.0 195.0,54.0 194.8,52.5 195.3,51.0 197.2,49.5 199.7,49.7 200.7,50.5 201.5,52.0 201.1,54.5 199.2,56.1ZM219.2,75.7 215.6,73.0 214.0,67.0 214.3,65.5 215.3,64.0 219.2,61.0 219.2,75.7ZM176.6,75.0 174.1,74.5 173.2,73.5 172.8,72.0 173.6,69.1 174.6,68.1 176.1,67.7 178.1,68.4 179.2,71.0 178.6,73.6 176.6,75.0ZM190.7,141.4 155.6,141.8 155.6,91.4 163.1,95.5 169.1,97.2 183.1,99.1 213.2,102.2 219.2,103.6 219.2,139.0 210.2,140.3 190.7,141.4ZM219.2,266.5 217.4,258.8 215.9,244.8 212.7,240.4 209.7,237.7 206.2,236.4 196.7,234.6 187.8,229.9 182.1,228.6 175.1,228.3 155.6,231.2 155.6,193.8 200.2,193.9 219.2,194.9 219.2,266.5ZM219.2,303.3 184.6,303.3 183.8,296.8 184.6,295.0 186.1,293.6 189.2,291.9 192.7,290.7 197.2,289.7 210.2,289.0 219.2,287.5 219.2,303.3Z"/>
<path fill="#FFD800" d="M198.2,53.1 197.4,52.5 197.7,51.9 198.7,52.4 198.2,53.1ZM176.1,72.0 176.1,72.0ZM197.2,139.9 188.2,140.4 155.6,140.4 155.6,98.3 176.6,101.2 208.2,103.5 219.2,106.1 219.2,137.7 211.7,139.2 197.2,139.9ZM219.2,240.2 217.1,236.8 214.4,234.9 211.0,233.9 199.7,231.8 189.2,227.4 185.6,226.5 176.1,225.7 165.6,227.6 155.6,228.7 155.6,195.4 165.6,195.9 198.7,196.0 208.2,197.0 219.2,197.1 219.2,240.2ZM216.7,303.3 191.2,303.3 192.0,301.3 193.4,299.8 195.7,298.5 198.2,298.0 210.2,298.3 214.2,300.4 216.7,303.3Z"/>
<path fill="#FFA800" d="M191.2,139.4 155.6,139.4 155.6,102.1 166.6,102.4 176.1,103.6 189.2,103.6 203.2,104.9 211.7,106.4 219.2,108.8 219.2,136.2 216.2,137.5 211.2,138.4 191.2,139.4ZM219.2,232.8 202.2,229.6 196.2,227.9 187.7,224.5 181.6,223.6 175.5,223.4 165.6,225.7 155.6,227.1 155.6,197.1 165.1,198.2 198.2,198.2 207.7,199.0 219.2,199.2 219.2,232.8Z"/>
<path fill="#FF8000" d="M201.2,138.4 187.7,138.8 155.6,138.7 155.6,105.0 166.6,104.7 194.7,105.7 206.7,107.3 213.2,109.1 216.7,110.8 219.2,114.1 219.2,133.1 218.7,134.1 217.2,135.9 214.2,137.1 209.2,137.9 201.2,138.4ZM219.2,229.7 198.2,226.6 187.7,222.1 179.6,221.1 175.1,221.2 155.6,225.5 155.6,199.7 165.6,200.4 198.7,199.9 219.2,201.2 219.2,229.7Z"/>
<path fill="#FF5000" d="M198.7,137.9 177.1,138.2 155.6,138.0 155.6,107.6 166.6,106.8 193.7,107.1 204.2,108.6 211.2,110.6 214.2,112.0 215.7,113.4 219.2,118.9 219.1,125.4 216.7,133.4 215.2,135.4 212.2,136.6 207.2,137.4 198.7,137.9ZM219.2,226.4 206.2,225.6 197.7,224.4 188.2,219.5 181.7,216.9 177.1,214.0 175.1,214.2 173.6,215.0 170.6,219.4 168.1,220.8 155.6,223.0 155.6,203.4 177.1,203.4 187.1,201.9 197.2,201.5 211.5,201.9 217.8,202.9 219.2,203.4 219.2,226.4Z"/>
<path fill="#FF2800" d="M195.7,137.4 176.1,137.7 155.6,137.2 155.6,110.0 170.6,108.5 189.7,108.4 203.2,110.1 208.3,111.4 211.5,112.9 213.5,115.4 214.9,118.9 215.5,129.4 214.4,132.9 212.0,135.4 209.7,136.2 204.7,137.0 195.7,137.4ZM216.7,222.9 205.7,223.2 199.7,222.5 196.1,221.4 190.2,217.4 187.7,214.9 187.4,208.9 187.8,207.4 189.1,205.9 191.2,204.6 197.2,203.5 210.2,203.5 215.2,204.6 219.2,206.1 219.2,222.5 216.7,222.9ZM157.6,218.9 155.6,219.2 155.6,206.8 157.9,207.9 160.4,209.9 161.7,211.4 162.4,213.4 162.3,215.4 161.3,217.4 159.7,218.4 157.6,218.9Z"/>
<path fill="#FF0000" d="M188.2,136.9 175.6,137.1 155.6,136.3 155.6,112.3 161.1,111.2 170.6,110.3 188.7,110.0 201.7,111.3 205.8,112.4 208.5,113.9 210.5,117.9 210.7,124.9 212.4,129.4 212.3,130.9 211.1,132.9 208.9,134.9 206.0,135.9 199.2,136.6 188.2,136.9ZM210.7,220.9 206.2,220.9 200.7,220.0 197.7,219.1 194.7,217.2 192.5,215.4 191.9,213.9 192.3,211.4 194.0,208.4 195.2,207.3 197.2,206.5 208.2,206.4 211.9,206.9 215.5,208.4 216.5,210.4 217.0,212.9 216.4,218.4 215.2,219.9 210.7,220.9ZM155.6,216.4 155.6,210.7 157.0,212.4 157.5,213.9 156.9,215.4 155.6,216.4Z"/>
<path fill="#FF0000" d="M178.1,136.4 161.3,135.4 155.6,134.2 155.6,119.3 156.7,116.4 157.8,114.9 161.1,113.3 168.6,112.1 188.2,111.5 194.7,111.9 200.2,112.8 203.4,113.9 205.2,115.6 206.5,118.4 206.6,125.4 208.6,129.9 208.1,131.4 206.6,132.9 203.1,134.9 199.7,135.7 178.1,136.4Z"/>
<path fill="#FF0000" d="M183.1,135.4 176.1,135.6 170.1,135.0 165.0,133.4 161.1,131.2 158.5,128.4 157.5,124.9 158.0,122.4 160.3,117.9 162.6,115.9 165.6,114.8 170.1,113.8 176.1,113.2 187.7,113.1 193.2,113.5 198.2,114.8 201.1,116.4 202.2,117.9 202.6,119.4 202.2,128.4 201.4,130.9 198.6,132.9 195.7,134.1 183.1,135.4Z"/>
<path fill="#FF0000" d="M182.6,134.0 174.6,134.2 170.6,133.2 168.5,131.9 163.1,127.4 161.7,125.4 161.9,122.9 164.2,118.9 165.9,117.4 168.6,116.2 176.1,114.9 189.7,115.4 194.4,116.4 197.2,117.9 198.0,119.4 198.0,124.9 197.3,126.9 196.2,128.4 193.7,130.6 191.2,131.9 182.6,134.0Z"/>
<path fill="#FF0000" d="M180.1,132.4 176.1,132.7 173.3,131.9 170.6,130.2 167.0,126.4 166.2,124.9 166.3,123.4 167.7,120.4 169.2,118.4 173.6,116.8 179.1,116.5 187.3,117.4 190.3,118.4 191.7,119.4 193.3,123.4 193.4,124.9 192.6,126.4 190.2,128.4 185.4,130.9 180.1,132.4Z"/>
<path fill="#FF0000" d="M178.6,130.0 176.6,130.3 175.1,129.7 171.4,126.4 170.6,125.0 170.8,123.4 171.8,121.4 173.5,119.4 175.1,118.6 178.8,118.4 182.7,119.4 185.6,121.5 187.3,123.9 187.3,124.9 186.0,126.4 178.6,130.0Z"/>
<path fill="none" stroke="#fff" stroke-opacity="0.3" stroke-width="0.5" d="M178.3,167.4 180.0,166.4 181.2,164.9 181.6,162.9 181.3,160.4 180.1,158.5 178.6,157.3 176.6,156.7 174.6,157.0 173.1,157.9 171.6,159.9 171.1,162.4 171.5,164.4 172.6,166.2 174.1,167.2 176.1,167.8 178.3,167.4M219.2,156.7 210.7,158.4 197.7,159.2 186.1,157.7 179.1,155.3 173.6,155.3 170.6,156.4 165.8,160.9 164.6,163.4 164.2,166.4 164.6,168.9 166.2,171.9 167.9,172.9 171.1,173.8 186.1,175.4 205.7,175.6 219.2,177.1M219.2,154.3 209.7,155.0 197.7,155.0 176.1,154.0 155.6,155.4M155.6,174.5 184.1,178.1 201.7,178.5 219.2,179.6M219.2,153.1 209.2,153.6 176.6,153.1 155.6,153.7M155.6,177.2 181.1,179.4 219.2,181.0M219.2,150.9 209.2,151.4 155.6,151.4M155.6,180.9 190.0,181.9 219.2,183.6M219.2,149.8 208.7,150.3 155.6,150.4M155.6,182.4 188.7,183.0 219.2,184.6M219.2,148.8 203.7,149.4 155.6,149.5M155.6,183.7 187.7,184.2 219.2,185.6M219.2,147.8 200.2,148.5 155.6,148.7M155.6,184.8 183.1,185.1 219.2,186.6M219.2,145.6 199.7,146.7 155.6,147.1M155.6,187.0 178.1,187.1 195.7,188.2 210.2,188.3 219.2,188.9M200.8,30.0 211.2,32.0 219.2,35.3M198.3,87.5 198.7,86.5 197.7,86.2 197.3,87.0 198.3,87.5M219.2,144.0 199.2,145.6 155.6,146.2M155.6,188.4 177.6,188.4 192.7,189.4 210.2,189.5 219.2,190.1M188.4,255.8 191.2,254.2 192.8,251.8 192.9,250.3 190.6,248.8 187.7,248.2 176.1,248.3 174.1,248.8 172.7,250.3 173.5,253.3 176.1,255.9 188.4,255.8M173.5,30.0 173.5,46.0 174.1,47.1 175.6,48.2 177.1,48.4 178.1,48.0 179.2,47.0 181.2,43.5 187.4,40.5 191.2,37.4 196.7,36.1 199.2,36.1 202.1,37.0 208.6,40.5 216.7,43.0 219.2,44.9M208.7,93.0 208.6,82.5 207.2,81.4 203.2,80.6 196.7,80.3 189.8,81.5 187.5,82.5 183.2,85.5 181.1,87.8 177.6,87.3 176.5,88.0 175.8,89.5 176.6,91.4 178.1,92.0 179.8,91.5 181.6,89.4 186.6,93.0 208.7,93.0M219.2,142.2 198.7,144.2 177.1,145.0 155.6,145.0M155.6,190.2 209.7,190.7 219.2,191.4M155.6,261.3 162.6,264.6 171.6,266.8 186.6,267.7 194.2,267.3 198.5,266.3 201.2,264.3 203.2,260.3 204.2,255.8 202.4,250.3 200.9,247.8 194.2,242.5 190.6,240.8 187.7,240.2 155.6,240.2M176.8,303.3 176.8,301.3 175.1,300.3 173.7,301.3 173.8,303.3M160.3,30.0 160.0,56.5 161.3,58.0 165.1,58.8 175.1,59.6 179.1,59.5 183.1,58.6 186.2,56.5 192.7,48.0 195.7,46.1 198.2,45.6 209.2,45.8 214.2,48.0 216.6,50.5 217.1,56.5 219.2,57.6M155.6,77.3 158.8,73.0 159.7,67.0 158.8,65.0 155.6,62.4M219.2,79.5 212.2,75.5 207.9,71.5 204.7,69.2 200.2,67.2 197.7,66.8 185.0,71.0 183.8,72.0 181.3,77.0 179.2,78.5 165.1,80.9 163.7,81.5 162.8,82.5 163.5,88.5 169.4,93.5 172.6,94.9 178.1,96.0 195.2,97.9 204.0,99.4 219.2,100.5M219.2,140.4 209.7,141.6 194.2,142.7 177.1,143.4 155.6,143.4M155.6,192.0 209.2,192.1 219.2,192.9M155.6,278.5 177.1,275.3 185.1,278.3 196.2,280.6 203.7,280.5 210.2,279.6 213.9,278.3 215.0,276.8 215.4,273.8 215.2,271.3 212.9,265.3 211.8,255.3 210.0,250.8 208.9,246.3 206.8,242.8 203.7,240.0 201.0,238.8 190.7,236.2 182.6,233.0 178.1,232.0 164.1,232.9 159.6,233.7 155.6,235.0M180.3,303.3 179.8,300.3 178.8,298.3 177.6,297.1 175.6,296.5 173.1,297.0 171.3,298.3 169.9,300.3 169.0,303.3M198.2,53.1 197.4,52.5 197.7,51.9 198.7,52.4 198.2,53.1M176.1,72.0 176.1,72.0M155.6,98.3 176.6,101.2 208.2,103.5 219.2,106.1M219.2,137.7 210.7,139.3 190.7,140.3 155.6,140.4M155.6,195.4 165.6,195.9 198.7,196.0 208.2,197.0 219.2,197.1M219.2,240.2 217.1,236.8 214.4,234.9 211.0,233.9 199.7,231.8 189.2,227.4 185.6,226.5 176.1,225.7 165.6,227.6 155.6,228.7M191.2,303.3 192.0,301.3 193.4,299.8 195.7,298.5 198.2,298.0 210.2,298.3 214.2,300.4 216.7,303.3M155.6,102.1 166.6,102.4 176.1,103.6 189.2,103.6 203.2,104.9 211.7,106.4 219.2,108.8M219.2,136.2 214.6,137.9 205.7,138.9 188.2,139.5 155.6,139.4M155.6,197.1 165.1,198.2 198.2,198.2 207.7,199.0 219.2,199.2M219.2,232.8 202.2,229.6 196.2,227.9 187.7,224.5 181.6,223.6 175.5,223.4 165.6,225.7 155.6,227.1M155.6,105.0 166.1,104.7 176.1,105.3 188.7,105.3 202.7,106.6 209.7,108.1 215.2,109.9 217.4,111.4 219.2,114.1M219.2,133.1 217.8,135.4 216.2,136.4 208.2,138.0 188.2,138.8 155.6,138.7M155.6,199.7 165.6,200.4 198.7,199.9 219.2,201.2M219.2,229.7 198.2,226.6 187.7,222.1 179.6,221.1 175.1,221.2 155.6,225.5M155.6,107.6 165.6,106.8 187.7,106.8 202.2,108.2 210.2,110.2 214.1,111.9 215.7,113.4 218.7,117.9 219.2,119.4 219.1,125.4 217.5,131.9 215.2,135.4 212.9,136.4 206.2,137.5 194.2,138.1 155.6,138.0M155.6,203.4 177.1,203.4 187.1,201.9 198.2,201.5 212.7,202.0 219.2,203.4M219.2,226.4 206.2,225.6 197.7,224.4 188.2,219.5 181.7,216.9 177.1,214.0 175.1,214.2 173.6,215.0 170.6,219.4 168.1,220.8 155.6,223.0M155.6,112.3 163.1,111.0 176.6,110.0 193.7,110.2 204.7,112.1 207.9,113.4 210.0,116.4 210.7,118.9 210.7,124.9 212.5,129.9 211.5,132.4 208.9,134.9 203.2,136.3 177.1,137.1 155.6,136.3M210.7,220.9 206.2,220.9 200.7,220.0 197.7,219.1 194.7,217.2 192.5,215.4 191.9,213.9 192.3,211.4 194.0,208.4 195.2,207.3 197.2,206.5 208.2,206.4 211.9,206.9 215.5,208.4 216.5,210.4 217.0,212.9 216.4,218.4 215.2,219.9 210.7,220.9M155.6,210.7 157.0,212.4 157.5,213.9 156.9,215.4 155.6,216.4M155.6,119.3 156.7,116.4 158.1,114.7 160.6,113.5 164.1,112.7 174.1,111.7 186.6,111.5 198.7,112.5 203.4,113.9 205.8,116.4 206.6,118.9 206.6,125.4 208.6,129.9 207.7,131.9 205.1,133.9 201.6,135.4 198.2,135.9 174.6,136.4 161.3,135.4 155.6,134.2M183.1,135.4 176.1,135.6 170.1,135.0 165.0,133.4 161.1,131.2 158.5,128.4 157.5,124.9 158.0,122.4 160.3,117.9 162.6,115.9 165.6,114.8 170.1,113.8 176.1,113.2 187.7,113.1 193.2,113.5 198.2,114.8 201.1,116.4 202.2,117.9 202.6,119.4 202.2,128.4 201.4,130.9 198.6,132.9 195.7,134.1 183.1,135.4M182.6,134.0 174.6,134.2 170.6,133.2 168.5,131.9 163.1,127.4 161.7,125.4 161.9,122.9 164.2,118.9 165.9,117.4 168.6,116.2 176.1,114.9 189.7,115.4 194.4,116.4 197.2,117.9 198.0,119.4 198.0,124.9 197.3,126.9 196.2,128.4 193.7,130.6 191.2,131.9 182.6,134.0M178.6,130.0 176.6,130.3 175.1,129.7 171.4,126.4 170.6,125.0 170.8,123.4 171.8,121.4 173.5,119.4 175.1,118.6 178.8,118.4 182.7,119.4 185.6,121.5 187.3,123.9 187.3,124.9 186.0,126.4 178.6,130.0"/>
<path fill="none" stroke="#000" stroke-opacity="0.55" stroke-width="0.6" d="M219.2,152.0 209.2,152.5 176.6,152.2 155.6,152.5M155.6,179.3 219.2,182.4M219.2,146.8 199.7,147.6 155.6,147.9M155.6,185.8 179.1,186.0 219.2,187.7M199.2,56.1 196.7,56.0 195.0,54.0 194.8,52.5 195.3,51.0 197.2,49.5 199.7,49.7 200.7,50.5 201.5,52.0 201.1,54.5 199.2,56.1M219.2,75.7 215.6,73.0 214.0,67.0 214.3,65.5 215.3,64.0 219.2,61.0M176.6,75.0 174.1,74.5 173.2,73.5 172.8,72.0 173.6,69.1 174.6,68.1 176.1,67.7 178.1,68.4 179.2,71.0 178.6,73.6 176.6,75.0M155.6,91.4 163.1,95.5 169.1,97.2 183.1,99.1 213.2,102.2 219.2,103.6M219.2,139.0 210.2,140.3 191.7,141.4 155.6,141.8M155.6,193.8 200.2,193.9 219.2,194.9M219.2,266.5 217.4,258.8 215.9,244.8 212.7,240.4 209.7,237.7 206.2,236.4 196.7,234.6 187.8,229.9 182.1,228.6 175.1,228.3 155.6,231.2M184.6,303.3 183.7,298.3 184.0,296.3 185.6,294.0 189.2,291.9 197.2,289.7 210.2,289.0 219.2,287.5M155.6,110.0 170.6,108.5 188.7,108.4 199.2,109.3 208.3,111.4 212.2,113.4 214.5,117.4 214.9,118.9 215.5,129.4 214.7,132.4 212.7,134.9 210.8,135.9 206.7,136.7 184.1,137.6 155.6,137.2M219.2,222.5 207.7,223.3 201.2,222.7 197.2,221.8 191.7,218.5 188.0,215.4 187.4,213.9 187.4,209.9 187.8,207.4 189.7,205.4 191.8,204.4 195.7,203.6 210.2,203.5 215.2,204.6 219.2,206.1M155.6,206.8 158.1,208.0 160.9,210.4 161.9,211.9 162.4,213.9 161.9,216.4 160.7,217.9 158.6,218.7 155.6,219.2M180.1,132.4 176.1,132.7 173.3,131.9 170.6,130.2 167.0,126.4 166.2,124.9 166.3,123.4 167.7,120.4 169.2,118.4 173.6,116.8 179.1,116.5 187.3,117.4 190.3,118.4 191.7,119.4 193.3,123.4 193.4,124.9 192.6,126.4 190.2,128.4 185.4,130.9 180.1,132.4"/>
<path d="M155.6,30v-3.5M155.6,303.3v3.5M176.8,30v-3.5M176.8,303.3v3.5M198.0,30v-3.5M198.0,303.3v3.5M219.2,30v-3.5M219.2,303.3v3.5M155.6,282.3h-3.5M219.2,282.3h3.5M155.6,240.2h-3.5M219.2,240.2h3.5M155.6,198.2h-3.5M219.2,198.2h3.5M155.6,156.1h-3.5M219.2,156.1h3.5M155.6,114.1h-3.5M219.2,114.1h3.5M155.6,72.0h-3.5M219.2,72.0h3.5M155.6,30.0h-3.5M219.2,30.0h3.5" stroke="#8a8a8a" stroke-width="0.8" fill="none"/>
<rect x="155.6" y="30" width="63.60" height="273.30" fill="none" stroke="#c8c8c8" stroke-width="0.5"/>
<text x="149.0" y="287.5" text-anchor="end" font-size="12">2</text>
<text x="149.0" y="245.4" text-anchor="end" font-size="12">4</text>
<text x="149.0" y="203.4" text-anchor="end" font-size="12">6</text>
<text x="149.0" y="161.3" text-anchor="end" font-size="12">8</text>
<text x="149.0" y="119.3" text-anchor="end" font-size="12">10</text>
<text x="149.0" y="77.2" text-anchor="end" font-size="12">12</text>
<text x="149.0" y="35.2" text-anchor="end" font-size="12">14</text>
<text x="153.6" y="318.6" text-anchor="middle" font-size="12">1</text>
<text x="174.8" y="318.6" text-anchor="middle" font-size="12">2</text>
<text x="196.0" y="318.6" text-anchor="middle" font-size="12">3</text>
<text x="217.2" y="318.6" text-anchor="middle" font-size="12">4</text>
<rect x="232" y="72.00" width="12.00" height="7.36" fill="#FF0000"/>
<rect x="232" y="79.06" width="12.00" height="7.36" fill="#FF0000"/>
<rect x="232" y="86.11" width="12.00" height="7.36" fill="#FF0000"/>
<rect x="232" y="93.17" width="12.00" height="7.36" fill="#FF0000"/>
<rect x="232" y="100.22" width="12.00" height="7.36" fill="#FF0000"/>
<rect x="232" y="107.28" width="12.00" height="7.36" fill="#FF0000"/>
<rect x="232" y="114.33" width="12.00" height="7.36" fill="#FF2800"/>
<rect x="232" y="121.39" width="12.00" height="7.36" fill="#FF5000"/>
<rect x="232" y="128.44" width="12.00" height="7.36" fill="#FF8000"/>
<rect x="232" y="135.50" width="12.00" height="7.36" fill="#FFA800"/>
<rect x="232" y="142.56" width="12.00" height="7.36" fill="#FFD800"/>
<rect x="232" y="149.61" width="12.00" height="7.36" fill="#E0EE00"/>
<rect x="232" y="156.67" width="12.00" height="7.36" fill="#84C600"/>
<rect x="232" y="163.72" width="12.00" height="7.36" fill="#14A014"/>
<rect x="232" y="170.78" width="12.00" height="7.36" fill="#00A848"/>
<rect x="232" y="177.83" width="12.00" height="7.36" fill="#00B868"/>
<rect x="232" y="184.89" width="12.00" height="7.36" fill="#00C080"/>
<rect x="232" y="191.94" width="12.00" height="7.36" fill="#00C890"/>
<rect x="232" y="199.00" width="12.00" height="7.36" fill="#00D8B0"/>
<rect x="232" y="206.06" width="12.00" height="7.36" fill="#00E8D0"/>
<rect x="232" y="213.11" width="12.00" height="7.36" fill="#00FFFF"/>
<rect x="232" y="220.17" width="12.00" height="7.36" fill="#00D0FF"/>
<rect x="232" y="227.22" width="12.00" height="7.36" fill="#0090FF"/>
<rect x="232" y="234.28" width="12.00" height="7.36" fill="#0050FF"/>
<rect x="232" y="241.33" width="12.00" height="7.36" fill="#0010FF"/>
<rect x="232" y="248.39" width="12.00" height="7.36" fill="#0000A0"/>
<rect x="232" y="255.44" width="12.00" height="7.36" fill="#000000"/>
<path d="M232,79.06h12.00M232,86.11h12.00M232,93.17h12.00M232,100.22h12.00M232,107.28h12.00M232,114.33h12.00M232,121.39h12.00M232,128.44h12.00M232,135.50h12.00M232,142.56h12.00M232,149.61h12.00M232,156.67h12.00M232,163.72h12.00M232,170.78h12.00M232,177.83h12.00M232,184.89h12.00M232,191.94h12.00M232,199.00h12.00M232,206.06h12.00M232,213.11h12.00M232,220.17h12.00M232,227.22h12.00M232,234.28h12.00M232,241.33h12.00M232,248.39h12.00M232,255.44h12.00" stroke="#000" stroke-opacity="0.25" stroke-width="0.6"/>
<text x="246.3" y="81.46" font-size="6.6" fill="#222">9E-07</text>
<text x="246.3" y="88.51" font-size="6.6" fill="#222">8E-07</text>
<text x="246.3" y="95.57" font-size="6.6" fill="#222">7E-07</text>
<text x="246.3" y="102.62" font-size="6.6" fill="#222">6E-07</text>
<text x="246.3" y="109.68" font-size="6.6" fill="#222">5E-07</text>
<text x="246.3" y="116.73" font-size="6.6" fill="#222">4E-07</text>
<text x="246.3" y="123.79" font-size="6.6" fill="#222">3E-07</text>
<text x="246.3" y="130.84" font-size="6.6" fill="#222">2E-07</text>
<text x="246.3" y="137.90" font-size="6.6" fill="#222">1E-07</text>
<text x="246.3" y="144.96" font-size="6.6" fill="#222">0</text>
<text x="246.3" y="152.01" font-size="6.6" fill="#222">-1E-07</text>
<text x="246.3" y="159.07" font-size="6.6" fill="#222">-2E-07</text>
<text x="246.3" y="166.12" font-size="6.6" fill="#222">-3E-07</text>
<text x="246.3" y="173.18" font-size="6.6" fill="#222">-4E-07</text>
<text x="246.3" y="180.23" font-size="6.6" fill="#222">-5E-07</text>
<text x="246.3" y="187.29" font-size="6.6" fill="#222">-6E-07</text>
<text x="246.3" y="194.34" font-size="6.6" fill="#222">-7E-07</text>
<text x="246.3" y="201.40" font-size="6.6" fill="#222">-8E-07</text>
<text x="246.3" y="208.46" font-size="6.6" fill="#222">-9E-07</text>
<text x="246.3" y="215.51" font-size="6.6" fill="#222">-1E-06</text>
<text x="246.3" y="222.57" font-size="6.6" fill="#222">-1.1E-06</text>
<text x="246.3" y="229.62" font-size="6.6" fill="#222">-1.2E-06</text>
<text x="246.3" y="236.68" font-size="6.6" fill="#222">-1.3E-06</text>
<text x="246.3" y="243.73" font-size="6.6" fill="#222">-1.4E-06</text>
<text x="246.3" y="250.79" font-size="6.6" fill="#222">-1.5E-06</text>
<text x="246.3" y="257.84" font-size="6.6" fill="#222">-1.6E-06</text>
<text x="246.3" y="264.90" font-size="6.6" fill="#222">-1.7E-06</text>
<text x="144.8" y="20.7" font-family="Liberation Serif, serif" font-weight="bold" font-size="17">3h-i<tspan font-size="10.5" dy="1.6">g</tspan></text><text x="191.7" y="20.7" font-family="Liberation Serif, serif" font-weight="bold" font-size="17">ig(A/cm<tspan font-size="15" dy="-5.8">2</tspan><tspan dy="5.8">)</tspan></text>
<rect x="289" y="34" width="62.00" height="268.80" fill="#000090"/>
<path fill="#0010FF" d="M351.0,302.8 289.0,302.8 289.0,34.0 351.0,34.0 351.0,302.8ZM309.8,164.4 311.0,163.8 311.9,162.4 312.1,160.9 311.5,159.3 309.8,157.9 307.4,157.9 306.0,158.4 304.4,160.4 304.9,162.9 307.0,164.3 309.8,164.4Z"/>
<path fill="#0060FF" d="M351.0,302.8 289.0,302.8 289.0,169.9 304.5,170.3 310.4,169.9 312.3,168.9 315.2,165.9 316.2,164.4 316.6,162.9 316.2,160.4 314.9,157.9 312.0,156.6 289.0,155.8 289.0,34.0 351.0,34.0 351.0,302.8Z"/>
<path fill="#00B0FF" d="M351.0,302.8 289.0,302.8 289.0,171.2 308.5,172.5 315.2,171.9 318.2,170.4 323.7,165.4 324.8,163.4 323.9,161.4 319.8,157.9 315.5,156.0 309.0,155.1 289.0,154.7 289.0,34.0 351.0,34.0 351.0,302.8ZM334.3,179.4 337.5,177.9 340.3,175.4 340.8,173.9 339.6,172.4 336.0,170.9 332.5,170.5 328.5,171.4 326.3,172.9 325.8,173.9 326.1,174.9 329.0,178.7 331.0,179.4 334.3,179.4Z"/>
<path fill="#00FFFF" d="M351.0,168.4 348.0,166.1 341.0,163.4 334.5,159.7 326.0,156.7 311.5,154.2 289.0,153.5 289.0,34.0 351.0,34.0 351.0,168.4ZM351.0,302.8 289.0,302.8 289.0,172.6 320.0,175.2 323.1,176.4 328.2,180.4 332.5,181.5 337.0,181.3 345.0,179.1 351.0,178.8 351.0,302.8Z"/>
<path fill="#00E0C8" d="M351.0,160.3 345.0,157.4 339.0,156.1 305.5,152.5 289.0,152.2 289.0,34.0 351.0,34.0 351.0,160.3ZM351.0,302.8 289.0,302.8 289.0,262.4 292.5,260.0 293.7,257.3 292.5,255.2 289.0,254.3 289.0,175.9 299.0,175.4 315.5,175.9 320.5,177.1 326.5,181.2 331.5,183.0 339.5,184.2 351.0,183.9 351.0,302.8Z"/>
<path fill="#00C888" d="M351.0,156.2 343.5,154.4 325.5,152.4 301.5,150.9 289.0,150.9 289.0,34.0 330.3,34.0 336.5,39.4 340.8,44.5 347.0,48.0 349.1,50.5 351.0,54.7 351.0,156.2ZM351.0,302.8 289.0,302.8 289.0,266.6 320.0,266.6 326.5,265.6 331.0,264.3 333.3,262.8 334.2,261.3 335.4,256.3 334.6,254.8 330.6,251.8 330.3,245.8 328.0,244.3 310.5,240.8 289.0,240.8 289.0,180.6 294.0,178.4 298.5,177.3 304.5,176.6 312.0,176.5 318.2,177.9 324.9,182.4 333.0,185.3 340.0,186.8 351.0,187.7 351.0,302.8Z"/>
<path fill="#00B050" d="M351.0,152.9 328.0,150.7 302.5,149.7 289.0,149.6 289.0,34.0 320.0,34.0 320.1,39.5 329.5,42.3 337.6,47.0 340.2,49.0 342.9,52.0 346.5,57.9 348.5,59.1 351.0,59.9 351.0,80.5 348.3,85.0 347.9,90.0 348.5,92.5 351.0,96.0 351.0,152.9ZM310.8,57.5 311.9,56.5 312.7,55.0 312.4,52.0 310.5,50.0 309.0,49.8 307.5,50.2 305.4,52.5 305.6,55.5 306.5,56.8 308.0,57.7 309.5,57.9 310.8,57.5ZM351.0,302.8 289.0,302.8 289.0,271.8 296.5,272.7 304.0,274.5 309.5,275.3 316.0,274.6 329.5,272.0 332.5,270.6 339.0,265.7 343.9,258.8 344.8,256.3 344.3,254.3 340.6,245.8 337.8,243.8 331.0,241.0 311.0,237.3 289.0,237.3 289.0,183.9 302.4,178.4 310.5,177.5 315.5,178.7 321.5,183.1 328.0,185.9 340.0,189.0 351.0,190.0 351.0,302.8Z"/>
<path fill="#00A000" d="M351.0,149.6 289.0,148.4 289.0,34.0 299.3,34.0 299.3,39.5 295.0,43.1 292.4,48.5 292.4,60.5 293.5,62.8 295.5,64.4 298.5,65.8 304.0,66.5 311.0,66.6 316.1,65.5 317.5,64.0 318.4,61.5 318.5,49.5 319.2,47.5 320.0,46.9 322.5,46.4 330.5,46.9 332.5,47.5 334.6,49.0 336.8,53.5 336.7,57.0 335.2,65.0 335.9,70.5 339.0,71.7 348.0,72.3 349.8,73.0 350.7,74.0 351.0,75.5 350.7,76.0 347.0,78.5 345.2,80.5 343.9,83.5 343.5,86.0 345.0,92.0 349.0,97.0 351.0,98.7 351.0,149.6ZM351.0,246.3 350.6,244.8 348.5,243.3 332.5,237.8 312.0,234.0 300.0,233.2 289.0,233.1 289.0,187.5 295.0,185.3 305.8,180.4 310.0,179.4 312.5,180.4 319.5,185.6 324.1,187.4 338.0,190.4 351.0,191.2 351.0,246.3ZM351.0,252.3 351.0,251.3 351.0,252.3ZM351.0,302.8 311.5,302.8 311.0,296.8 310.4,295.3 309.0,293.8 304.2,291.8 292.5,289.5 289.3,287.8 289.0,287.3 289.0,277.0 290.0,278.0 292.0,278.5 303.5,279.4 326.0,279.0 331.0,278.5 345.7,268.3 347.3,265.8 350.3,258.8 351.0,255.8 351.0,302.8Z"/>
<path fill="#60B000" d="M330.5,56.6 329.0,56.6 327.9,55.5 327.9,54.0 329.0,52.8 330.5,52.8 331.6,54.0 331.5,55.5 330.5,56.6ZM308.5,146.9 289.0,147.1 289.0,73.3 296.5,74.0 308.5,76.7 321.5,78.1 327.3,79.5 332.5,81.4 335.5,83.5 341.5,92.0 346.9,98.0 351.0,101.2 351.0,145.3 308.5,146.9ZM351.0,238.7 321.5,230.7 301.5,227.9 289.0,227.7 289.0,190.3 300.3,188.9 309.5,185.9 314.5,188.3 320.7,189.9 338.0,191.8 351.0,192.3 351.0,238.7ZM351.0,297.6 348.4,294.8 347.6,292.3 347.7,285.8 348.3,281.3 349.2,278.8 351.0,277.0 351.0,297.6ZM310.5,285.4 309.0,285.5 307.5,284.3 307.4,282.3 308.3,281.3 310.5,281.1 311.9,282.3 311.8,284.3 310.5,285.4Z"/>
<path fill="#E8F000" d="M304.0,145.4 289.0,145.9 289.0,77.9 298.6,80.0 318.0,82.5 328.0,85.5 331.5,87.5 340.0,93.7 344.6,99.0 351.0,105.1 351.0,140.2 342.0,141.8 328.0,142.8 312.0,145.0 304.0,145.4ZM351.0,235.6 334.3,229.9 325.0,227.2 317.0,224.2 312.0,223.0 309.0,222.7 289.0,223.6 289.0,192.6 310.0,192.1 327.0,193.3 351.0,193.6 351.0,235.6Z"/>
<path fill="#FFC800" d="M293.0,144.4 289.0,144.6 289.0,83.7 300.0,83.8 310.5,84.8 320.5,86.8 326.0,88.5 337.7,94.5 342.5,100.9 351.0,109.2 351.0,132.2 348.5,135.3 346.3,136.9 341.5,138.8 335.5,140.1 320.0,141.7 309.5,143.4 293.0,144.4ZM351.0,232.1 331.5,225.9 326.0,222.1 320.0,220.1 315.0,217.6 310.5,216.0 308.0,216.2 300.0,218.9 294.5,219.7 291.0,221.3 289.0,221.7 289.0,199.4 297.9,198.4 310.0,198.4 320.0,200.2 331.0,200.4 341.0,199.4 351.0,197.1 351.0,232.1Z"/>
<path fill="#FF8C00" d="M294.0,143.0 289.0,143.3 289.0,111.4 292.4,106.9 293.5,101.4 292.4,100.0 289.0,98.6 289.0,90.9 290.0,90.3 293.5,89.0 298.0,88.2 310.0,88.4 321.0,89.7 332.5,93.6 336.2,96.0 338.9,101.4 342.9,105.9 346.0,111.0 348.0,112.8 351.0,114.2 351.0,127.0 341.5,134.4 336.6,137.4 329.0,139.3 309.5,141.8 294.0,143.0ZM351.0,228.8 339.0,224.5 337.0,223.1 333.4,219.4 326.3,215.9 325.9,214.9 326.4,209.4 327.8,206.4 330.5,204.5 334.0,203.4 351.0,200.9 351.0,228.8ZM290.0,220.0 289.0,220.2 289.0,214.2 290.5,215.2 291.2,216.9 291.0,218.9 290.0,220.0Z"/>
<path fill="#FF4000" d="M295.0,141.4 289.0,141.8 289.0,123.1 292.0,121.9 293.5,119.9 296.2,111.9 300.1,102.9 300.0,100.0 296.2,96.5 296.6,95.0 299.2,93.5 302.5,92.4 311.5,91.7 321.5,92.2 328.7,94.0 332.1,95.5 334.7,101.4 338.3,106.9 341.0,115.7 345.0,120.9 345.0,123.4 343.5,127.9 331.6,135.9 328.3,137.4 309.5,140.3 295.0,141.4ZM351.0,225.6 342.9,222.4 334.6,215.4 334.8,212.4 336.2,209.4 338.2,207.4 341.5,205.4 344.4,204.4 351.0,203.3 351.0,225.6Z"/>
<path fill="#FF1000" d="M297.5,139.9 289.0,140.4 289.0,124.5 296.3,122.9 298.0,121.9 298.6,120.9 301.8,111.9 303.0,105.9 304.7,101.9 304.6,95.5 306.7,94.5 309.0,94.1 319.5,94.1 324.6,95.0 326.9,96.0 329.1,101.4 334.5,110.4 334.8,117.4 336.1,121.9 336.4,126.9 335.9,127.9 325.5,134.7 321.5,136.4 312.1,138.4 297.5,139.9ZM351.0,223.0 346.2,220.4 342.7,216.4 342.2,214.9 343.2,212.4 345.9,209.4 348.0,207.8 351.0,206.5 351.0,223.0Z"/>
<path fill="#FF0000" d="M290.0,138.4 289.0,138.5 289.0,126.2 298.0,124.7 301.7,122.9 307.1,112.4 307.6,105.9 308.5,104.5 309.5,103.9 320.0,103.9 321.5,104.2 323.0,105.3 325.1,109.9 327.5,113.3 328.1,115.4 327.6,126.9 326.8,128.4 319.9,133.4 315.5,135.4 301.4,137.9 290.0,138.4ZM351.0,219.0 349.6,214.9 351.0,212.0 351.0,219.0Z"/>
<path fill="#FF0000" d="M311.5,133.4 307.0,133.6 304.3,132.4 304.3,126.9 306.7,123.9 308.0,120.4 309.5,119.2 313.7,119.9 315.0,120.7 315.5,121.7 315.4,127.9 313.0,132.4 311.5,133.4Z"/>
<path fill="none" stroke="#fff" stroke-opacity="0.3" stroke-width="0.5" d="M309.8,164.4 311.0,163.8 311.9,162.4 312.1,160.9 311.5,159.3 309.8,157.9 307.4,157.9 306.0,158.4 304.4,160.4 304.9,162.9 307.0,164.3 309.8,164.4M289.0,169.9 304.5,170.3 310.4,169.9 312.3,168.9 315.2,165.9 316.2,164.4 316.6,162.9 316.2,160.4 314.9,157.9 312.0,156.6 289.0,155.8M289.0,171.2 308.5,172.5 315.2,171.9 318.2,170.4 323.7,165.4 324.8,163.4 323.9,161.4 319.8,157.9 315.5,156.0 309.0,155.1 289.0,154.7M334.3,179.4 337.5,177.9 340.3,175.4 340.8,173.9 339.6,172.4 336.0,170.9 332.5,170.5 328.5,171.4 326.3,172.9 325.8,173.9 326.1,174.9 329.0,178.7 331.0,179.4 334.3,179.4M351.0,160.3 345.0,157.4 339.0,156.1 305.5,152.5 289.0,152.2M289.0,175.9 299.0,175.4 315.5,175.9 320.5,177.1 326.5,181.2 331.5,183.0 339.5,184.2 351.0,183.9M289.0,262.4 292.5,260.0 293.7,257.3 292.5,255.2 289.0,254.3M330.3,34.0 336.5,39.4 340.8,44.5 347.6,48.5 349.0,50.4 351.0,54.7M351.0,156.2 343.5,154.4 325.5,152.4 301.5,150.9 289.0,150.9M289.0,180.6 294.0,178.4 298.5,177.3 304.5,176.6 312.0,176.5 318.2,177.9 324.9,182.4 333.0,185.3 340.0,186.8 351.0,187.7M289.0,266.6 320.0,266.6 326.5,265.6 331.0,264.3 333.3,262.8 334.2,261.3 335.4,256.3 334.6,254.8 330.6,251.8 330.3,245.8 328.0,244.3 310.5,240.8 289.0,240.8M320.0,34.0 320.1,39.5 329.5,42.3 337.6,47.0 340.2,49.0 342.9,52.0 346.5,57.9 348.5,59.1 351.0,59.9M310.8,57.5 311.9,56.5 312.7,55.0 312.4,52.0 310.5,50.0 309.0,49.8 307.5,50.2 305.4,52.5 305.6,55.5 306.5,56.8 308.0,57.7 309.5,57.9 310.8,57.5M351.0,80.5 348.3,85.0 347.9,90.0 348.5,92.5 351.0,96.0M351.0,152.9 328.0,150.7 302.5,149.7 289.0,149.6M289.0,183.9 302.4,178.4 310.5,177.5 315.5,178.7 321.5,183.1 328.0,185.9 340.0,189.0 351.0,190.0M289.0,271.8 296.5,272.7 304.0,274.5 309.5,275.3 316.0,274.6 329.5,272.0 332.5,270.6 339.0,265.7 343.9,258.8 344.8,256.3 344.3,254.3 340.6,245.8 337.8,243.8 331.0,241.0 311.0,237.3 289.0,237.3M299.3,34.0 299.3,39.5 295.0,43.1 292.5,48.2 292.4,60.0 293.5,62.8 297.0,65.3 301.0,66.2 310.5,66.6 316.0,65.5 317.5,64.0 318.4,61.5 318.6,49.0 319.5,47.2 321.5,46.5 326.0,46.4 331.0,47.0 333.4,48.0 335.0,49.5 336.9,54.0 336.6,58.0 335.2,65.0 335.9,70.5 338.5,71.7 348.5,72.4 350.0,73.1 350.9,74.5 350.7,76.0 345.5,80.0 344.0,83.0 343.5,86.0 345.0,92.0 349.0,97.0 351.0,98.7M351.0,149.6 289.0,148.4M289.0,187.5 295.0,185.3 305.8,180.4 310.0,179.4 312.5,180.4 319.5,185.6 324.1,187.4 338.0,190.4 351.0,191.2M351.0,246.3 350.6,244.8 348.5,243.3 332.5,237.8 312.0,234.0 300.0,233.2 289.0,233.1M351.0,252.3 351.0,251.3M289.0,277.0 290.0,278.0 292.0,278.5 303.5,279.4 326.0,279.0 331.0,278.5 345.7,268.3 347.3,265.8 350.3,258.8 351.0,255.8M311.5,302.8 311.0,296.8 310.4,295.3 309.0,293.8 304.2,291.8 292.5,289.5 290.0,288.4 289.0,287.3M289.0,77.9 298.6,80.0 318.0,82.5 328.0,85.5 331.5,87.5 340.0,93.7 344.6,99.0 351.0,105.1M351.0,140.2 343.0,141.6 326.4,142.9 311.0,145.1 289.0,145.9M289.0,192.6 310.0,192.1 327.0,193.3 351.0,193.6M351.0,235.6 334.3,229.9 325.0,227.2 317.0,224.2 312.0,223.0 309.0,222.7 289.0,223.6M289.0,83.7 300.0,83.8 310.5,84.8 320.5,86.8 326.0,88.5 337.7,94.5 342.5,100.9 351.0,109.2M351.0,132.2 348.5,135.3 346.3,136.9 342.8,138.4 338.0,139.7 320.0,141.7 309.5,143.4 289.0,144.6M289.0,199.4 297.9,198.4 310.0,198.4 320.0,200.2 331.0,200.4 341.0,199.4 351.0,197.1M351.0,232.1 331.5,225.9 326.0,222.1 320.0,220.1 315.0,217.6 310.5,216.0 308.0,216.2 300.0,218.9 294.5,219.7 291.0,221.3 289.0,221.7M289.0,90.9 292.5,89.3 297.0,88.3 307.5,88.2 321.0,89.7 332.2,93.5 334.5,94.5 336.2,96.0 338.9,101.4 342.6,105.4 346.4,111.4 348.5,113.1 351.0,114.2M289.0,116.4 289.2,110.9 292.4,106.9 293.5,101.4 292.4,100.0 289.0,98.6M351.0,127.0 340.0,135.4 336.6,137.4 333.7,138.4 309.5,141.8 289.0,143.3M351.0,228.8 338.7,224.4 333.4,219.4 327.0,216.4 325.9,214.9 326.8,207.9 328.0,206.2 329.8,204.9 336.4,202.9 351.0,200.9M289.0,214.2 290.6,215.4 291.2,217.4 290.7,219.4 289.0,220.2M289.0,123.1 292.0,121.9 293.5,119.9 296.2,111.9 300.1,102.9 300.0,100.0 296.2,96.5 296.2,95.5 298.1,94.0 301.5,92.6 309.0,91.7 321.5,92.2 328.7,94.0 332.1,95.5 334.7,101.4 338.3,106.9 340.9,115.4 344.7,120.4 345.2,121.9 344.1,126.9 343.0,128.4 331.6,135.9 328.5,137.4 308.7,140.4 289.0,141.8M351.0,225.6 342.5,222.1 335.0,215.9 334.5,214.9 334.8,212.4 335.9,209.9 338.9,206.9 343.5,204.6 351.0,203.3M289.0,126.2 298.0,124.7 301.7,122.9 307.1,112.4 307.6,105.9 308.5,104.5 309.5,103.9 320.0,103.9 322.0,104.5 323.5,105.9 325.1,109.9 327.9,114.4 328.2,116.9 327.6,127.4 326.2,128.9 319.9,133.4 316.0,135.3 310.5,136.5 301.0,138.0 289.0,138.5M351.0,219.0 349.6,214.9 351.0,212.0M311.5,133.4 307.0,133.6 304.3,132.4 304.3,126.9 306.7,123.9 308.0,120.4 309.5,119.2 313.7,119.9 315.0,120.7 315.5,121.7 315.4,127.9 313.0,132.4 311.5,133.4"/>
<path fill="none" stroke="#000" stroke-opacity="0.55" stroke-width="0.6" d="M351.0,168.4 348.0,166.1 341.0,163.4 334.5,159.7 326.0,156.7 311.5,154.2 289.0,153.5M289.0,172.6 320.0,175.2 323.1,176.4 328.2,180.4 332.5,181.5 337.0,181.3 345.0,179.1 351.0,178.8M330.5,56.6 329.0,56.6 327.9,55.5 327.9,54.0 329.0,52.8 330.5,52.8 331.6,54.0 331.5,55.5 330.5,56.6M289.0,73.3 296.5,74.0 308.5,76.7 321.5,78.1 327.3,79.5 332.5,81.4 335.5,83.5 341.5,92.0 346.9,98.0 351.0,101.2M351.0,145.3 312.0,146.8 289.0,147.1M289.0,190.3 300.3,188.9 309.5,185.9 314.5,188.3 320.7,189.9 338.0,191.8 351.0,192.3M351.0,238.7 321.5,230.7 301.5,227.9 289.0,227.7M351.0,297.6 348.4,294.8 347.6,292.3 347.7,285.8 348.3,281.3 349.2,278.8 351.0,277.0M310.5,285.4 309.0,285.5 307.5,284.3 307.4,282.3 308.3,281.3 310.5,281.1 311.9,282.3 311.8,284.3 310.5,285.4M289.0,124.5 296.3,122.9 298.0,121.9 298.6,120.9 301.8,111.9 303.0,105.9 304.7,101.9 304.3,96.0 306.7,94.5 309.5,94.1 320.5,94.2 326.1,95.5 327.3,96.5 329.1,101.4 334.5,110.4 334.8,116.9 336.0,121.4 336.4,126.9 335.9,127.9 334.7,128.9 330.0,131.4 324.5,135.3 318.0,137.4 304.5,139.4 289.0,140.4M351.0,223.0 346.2,220.4 342.7,216.4 342.2,214.9 343.2,212.4 345.9,209.4 348.0,207.8 351.0,206.5"/>
<path d="M289.0,34v-3.5M289.0,302.8v3.5M309.7,34v-3.5M309.7,302.8v3.5M330.3,34v-3.5M330.3,302.8v3.5M351.0,34v-3.5M351.0,302.8v3.5M289,282.1h-3.5M351,282.1h3.5M289,240.8h-3.5M351,240.8h3.5M289,199.4h-3.5M351,199.4h3.5M289,158.1h-3.5M351,158.1h3.5M289,116.7h-3.5M351,116.7h3.5M289,75.4h-3.5M351,75.4h3.5M289,34.0h-3.5M351,34.0h3.5" stroke="#8a8a8a" stroke-width="0.8" fill="none"/>
<rect x="289" y="34" width="62.00" height="268.80" fill="none" stroke="#c8c8c8" stroke-width="0.5"/>
<text x="282.4" y="287.3" text-anchor="end" font-size="12">2</text>
<text x="282.4" y="246.0" text-anchor="end" font-size="12">4</text>
<text x="282.4" y="204.6" text-anchor="end" font-size="12">6</text>
<text x="282.4" y="163.3" text-anchor="end" font-size="12">8</text>
<text x="282.4" y="121.9" text-anchor="end" font-size="12">10</text>
<text x="282.4" y="80.6" text-anchor="end" font-size="12">12</text>
<text x="282.4" y="39.2" text-anchor="end" font-size="12">14</text>
<text x="287.0" y="318.6" text-anchor="middle" font-size="12">1</text>
<text x="307.7" y="318.6" text-anchor="middle" font-size="12">2</text>
<text x="328.3" y="318.6" text-anchor="middle" font-size="12">3</text>
<text x="349.0" y="318.6" text-anchor="middle" font-size="12">4</text>
<rect x="367.3" y="71.80" width="11.50" height="9.58" fill="#FF0000"/>
<rect x="367.3" y="81.08" width="11.50" height="9.58" fill="#FF0000"/>
<rect x="367.3" y="90.36" width="11.50" height="9.58" fill="#FF0000"/>
<rect x="367.3" y="99.64" width="11.50" height="9.58" fill="#FF0000"/>
<rect x="367.3" y="108.92" width="11.50" height="9.58" fill="#FF1000"/>
<rect x="367.3" y="118.20" width="11.50" height="9.58" fill="#FF4000"/>
<rect x="367.3" y="127.48" width="11.50" height="9.58" fill="#FF8C00"/>
<rect x="367.3" y="136.76" width="11.50" height="9.58" fill="#FFC800"/>
<rect x="367.3" y="146.04" width="11.50" height="9.58" fill="#E8F000"/>
<rect x="367.3" y="155.32" width="11.50" height="9.58" fill="#60B000"/>
<rect x="367.3" y="164.60" width="11.50" height="9.58" fill="#00A000"/>
<rect x="367.3" y="173.88" width="11.50" height="9.58" fill="#00B050"/>
<rect x="367.3" y="183.16" width="11.50" height="9.58" fill="#00C888"/>
<rect x="367.3" y="192.44" width="11.50" height="9.58" fill="#00E0C8"/>
<rect x="367.3" y="201.72" width="11.50" height="9.58" fill="#00FFFF"/>
<rect x="367.3" y="211.00" width="11.50" height="9.58" fill="#00B0FF"/>
<rect x="367.3" y="220.28" width="11.50" height="9.58" fill="#0060FF"/>
<rect x="367.3" y="229.56" width="11.50" height="9.58" fill="#0010FF"/>
<rect x="367.3" y="238.84" width="11.50" height="9.58" fill="#000090"/>
<rect x="367.3" y="248.12" width="11.50" height="9.58" fill="#000000"/>
<path d="M367.3,81.08h11.50M367.3,90.36h11.50M367.3,99.64h11.50M367.3,108.92h11.50M367.3,118.20h11.50M367.3,127.48h11.50M367.3,136.76h11.50M367.3,146.04h11.50M367.3,155.32h11.50M367.3,164.60h11.50M367.3,173.88h11.50M367.3,183.16h11.50M367.3,192.44h11.50M367.3,201.72h11.50M367.3,211.00h11.50M367.3,220.28h11.50M367.3,229.56h11.50M367.3,238.84h11.50M367.3,248.12h11.50" stroke="#000" stroke-opacity="0.25" stroke-width="0.6"/>
<text x="381.1" y="83.48" font-size="6.6" fill="#222">8E-07</text>
<text x="381.1" y="92.76" font-size="6.6" fill="#222">7E-07</text>
<text x="381.1" y="102.04" font-size="6.6" fill="#222">6E-07</text>
<text x="381.1" y="111.32" font-size="6.6" fill="#222">5E-07</text>
<text x="381.1" y="120.60" font-size="6.6" fill="#222">4E-07</text>
<text x="381.1" y="129.88" font-size="6.6" fill="#222">3E-07</text>
<text x="381.1" y="139.16" font-size="6.6" fill="#222">2E-07</text>
<text x="381.1" y="148.44" font-size="6.6" fill="#222">1E-07</text>
<text x="381.1" y="157.72" font-size="6.6" fill="#222">0</text>
<text x="381.1" y="167.00" font-size="6.6" fill="#222">-1E-07</text>
<text x="381.1" y="176.28" font-size="6.6" fill="#222">-2E-07</text>
<text x="381.1" y="185.56" font-size="6.6" fill="#222">-3E-07</text>
<text x="381.1" y="194.84" font-size="6.6" fill="#222">-4E-07</text>
<text x="381.1" y="204.12" font-size="6.6" fill="#222">-5E-07</text>
<text x="381.1" y="213.40" font-size="6.6" fill="#222">-6E-07</text>
<text x="381.1" y="222.68" font-size="6.6" fill="#222">-7E-07</text>
<text x="381.1" y="231.96" font-size="6.6" fill="#222">-8E-07</text>
<text x="381.1" y="241.24" font-size="6.6" fill="#222">-9E-07</text>
<text x="381.1" y="250.52" font-size="6.6" fill="#222">-1E-06</text>
<text x="381.1" y="259.80" font-size="6.6" fill="#222">-1.1E-06</text>
<text x="277.5" y="20.8" font-family="Liberation Serif, serif" font-weight="bold" font-size="17">5h-i<tspan font-size="10.5" dy="1.6">g</tspan></text><text x="322.9" y="20.8" font-family="Liberation Serif, serif" font-weight="bold" font-size="17">ig(A/cm<tspan font-size="15" dy="-5.8">2</tspan><tspan dy="5.8">)</tspan></text>
<rect x="424.2" y="34" width="62.60" height="268.80" fill="#000090"/>
<path fill="#0000D0" d="M486.8,302.8 424.2,302.8 424.2,34.0 486.8,34.0 486.8,164.7 484.4,167.9 483.4,173.4 484.2,174.9 486.8,176.5 486.8,302.8ZM446.7,164.4 447.3,163.9 447.5,162.9 446.2,161.9 443.7,161.9 442.2,162.9 442.4,163.9 443.7,164.6 445.2,164.8 446.7,164.4Z"/>
<path fill="#0040FF" d="M486.8,302.8 424.2,302.8 424.2,34.0 486.8,34.0 486.8,160.8 483.6,162.4 479.7,166.4 477.1,170.9 476.4,173.4 476.8,174.4 478.2,175.4 486.8,178.9 486.8,302.8ZM447.7,167.9 451.2,166.3 453.2,163.9 452.7,161.9 449.6,159.9 445.7,158.9 442.2,159.2 437.2,160.8 434.7,162.9 435.3,164.9 438.2,167.0 443.7,168.3 447.7,167.9Z"/>
<path fill="#0080FF" d="M486.8,302.8 424.2,302.8 424.2,34.0 486.8,34.0 486.8,158.1 482.3,159.0 478.8,160.8 471.3,169.0 466.0,173.4 467.9,174.9 471.3,176.4 486.8,180.4 486.8,302.8ZM460.0,173.4 458.8,172.1 457.8,169.9 457.7,164.4 457.1,161.9 454.7,159.4 450.7,157.4 445.2,156.6 437.7,157.3 427.7,160.0 425.3,161.4 424.2,162.9 425.0,165.4 427.6,168.4 429.7,169.7 432.9,170.9 444.2,173.5 460.0,173.4Z"/>
<path fill="#00C0FF" d="M466.8,165.5 465.3,165.5 463.8,164.9 457.3,157.6 453.2,155.9 446.7,154.9 439.7,154.7 424.2,156.0 424.2,34.0 486.8,34.0 486.8,155.5 479.8,156.4 476.1,157.4 474.8,158.4 471.3,162.8 468.8,164.7 466.8,165.5ZM486.8,302.8 424.2,302.8 424.2,173.6 454.2,178.6 486.8,181.5 486.8,302.8Z"/>
<path fill="#00FFFF" d="M467.3,160.4 465.8,160.8 464.8,160.5 459.6,155.9 457.3,154.7 454.2,154.0 435.2,152.0 428.7,152.2 424.2,152.9 424.2,34.0 486.8,34.0 486.8,152.9 474.7,154.9 471.2,156.9 467.3,160.4ZM486.8,302.8 424.2,302.8 424.2,177.0 435.2,177.9 444.7,180.1 453.2,181.1 486.8,182.4 486.8,302.8Z"/>
<path fill="#00F0E0" d="M467.3,153.4 465.3,153.6 457.3,151.4 452.7,150.7 436.2,149.2 424.2,148.8 424.2,34.0 442.9,34.0 454.7,40.7 465.1,44.0 470.8,46.9 474.8,48.1 486.8,50.4 486.8,149.7 476.3,150.9 467.3,153.4ZM486.8,40.3 481.5,34.0 486.8,34.0 486.8,40.3ZM486.8,302.8 424.2,302.8 424.2,181.4 463.8,183.7 477.8,183.7 486.8,183.2 486.8,302.8Z"/>
<path fill="#00D8A8" d="M468.8,147.5 465.3,147.7 456.3,146.9 439.2,146.7 424.2,145.8 424.2,34.0 434.6,34.0 435.2,37.0 437.0,39.5 443.3,43.5 446.9,45.0 465.8,51.1 477.3,53.4 486.8,54.6 486.8,145.3 476.8,146.2 468.8,147.5ZM486.8,302.8 424.2,302.8 424.2,185.5 444.7,184.9 473.3,185.5 486.8,184.1 486.8,302.8Z"/>
<path fill="#00C070" d="M443.2,143.9 424.2,143.6 424.2,113.0 425.7,112.2 426.3,110.9 425.6,109.4 424.2,108.8 424.2,45.8 435.7,47.6 447.7,51.2 455.8,54.8 473.8,58.9 480.3,57.0 486.8,56.5 486.8,140.0 476.3,141.0 467.3,142.5 454.7,142.6 443.2,143.9ZM486.8,302.8 424.2,302.8 424.2,188.1 444.2,186.1 463.8,187.3 472.8,187.1 480.3,185.5 486.8,185.0 486.8,221.2 486.0,222.4 486.8,223.8 486.8,302.8ZM445.3,240.3 446.1,239.3 446.3,237.8 445.7,236.7 444.2,236.1 442.8,237.3 442.7,238.8 443.7,240.4 445.3,240.3Z"/>
<path fill="#00A840" d="M445.2,58.5 443.2,58.6 441.5,57.5 441.0,55.0 442.2,53.4 444.7,53.1 446.7,54.5 446.8,57.0 445.2,58.5ZM427.7,141.5 424.2,141.7 424.2,115.3 427.9,113.9 428.8,112.9 429.4,111.4 429.1,109.9 428.0,108.4 426.2,107.2 424.2,106.7 424.2,83.1 435.7,83.1 443.2,82.5 456.8,79.4 465.8,76.9 468.3,68.3 469.7,65.5 471.5,63.5 474.5,61.5 478.8,59.7 486.8,58.3 486.8,134.3 476.8,135.6 449.7,136.5 442.6,137.9 432.2,140.8 427.7,141.5ZM458.3,302.8 424.2,302.8 424.2,224.9 424.4,225.9 426.9,228.9 429.0,233.9 431.6,237.8 439.2,245.3 441.2,246.5 443.7,247.3 449.0,246.8 451.2,245.8 452.7,244.5 456.3,239.3 459.2,230.4 457.4,222.4 456.3,220.7 454.9,219.9 448.2,219.0 434.2,218.5 426.2,219.2 424.3,219.9 424.2,220.4 424.2,191.5 432.7,190.1 437.7,188.1 442.7,187.2 448.7,187.4 455.8,189.1 467.8,189.6 471.3,189.4 474.6,187.9 479.3,186.7 486.8,185.9 486.8,218.6 483.7,219.4 482.7,220.9 482.4,222.9 482.8,224.9 483.8,226.3 486.8,227.7 486.8,271.8 481.3,273.9 469.6,276.8 463.3,279.7 456.3,281.8 454.7,282.7 453.1,286.3 453.2,293.3 458.6,302.8 458.3,302.8Z"/>
<path fill="#00A000" d="M486.8,127.0 465.8,127.0 463.8,126.6 460.8,124.8 456.6,120.9 449.4,116.9 446.2,113.9 445.1,111.4 446.6,106.9 447.0,100.5 449.1,96.0 450.4,90.5 452.4,87.5 454.3,85.5 456.5,84.5 462.8,83.2 467.3,83.0 468.5,81.0 470.7,71.0 473.8,65.3 475.9,63.5 478.8,62.1 486.8,60.3 486.8,94.7 482.8,95.0 478.8,94.4 478.6,96.0 478.8,97.0 480.2,98.5 484.4,101.9 486.8,103.4 486.8,127.0ZM425.7,140.0 424.2,140.4 424.2,124.6 435.7,124.5 445.2,124.9 448.7,125.6 450.6,126.9 450.2,127.9 448.1,129.4 433.1,135.9 428.7,138.9 425.7,140.0ZM485.8,217.4 481.8,217.5 478.8,216.9 475.8,215.7 472.3,213.6 467.1,214.9 455.2,214.9 452.7,214.1 446.2,215.5 443.2,215.3 439.7,214.4 434.4,211.4 430.9,206.9 429.6,201.9 429.6,198.9 430.2,196.4 431.5,193.9 433.7,191.8 437.7,189.7 441.7,188.6 446.2,188.4 450.7,189.2 455.2,191.1 458.8,193.8 468.8,193.4 472.3,190.7 477.0,188.4 481.3,187.3 486.8,186.8 486.8,217.3 485.8,217.4ZM444.7,302.8 424.2,302.8 424.2,256.0 433.7,258.8 447.7,258.8 456.3,257.5 458.1,256.3 460.3,252.8 460.8,245.8 461.2,244.8 465.4,241.3 468.3,237.6 470.8,236.4 475.8,235.6 478.3,235.9 481.3,237.1 482.8,238.3 483.6,240.3 483.4,251.3 484.7,252.8 486.8,253.7 486.8,264.4 477.3,266.6 453.2,266.8 449.5,267.8 447.3,269.3 443.4,274.3 443.6,285.3 442.9,290.3 441.7,294.3 441.7,295.3 445.1,302.8 444.7,302.8Z"/>
<path fill="#60B800" d="M486.8,91.5 481.8,91.4 477.3,90.1 472.7,87.5 470.9,85.5 470.7,84.5 472.1,81.0 473.3,73.0 476.0,67.5 477.9,65.5 480.2,64.0 486.8,62.4 486.8,91.5ZM424.2,139.0 424.2,132.2 425.9,133.4 426.4,135.4 425.7,137.9 424.2,139.0ZM486.8,215.7 483.3,215.6 480.3,215.0 474.9,211.9 472.5,209.4 470.9,206.9 469.9,204.4 469.5,200.9 469.7,198.4 470.5,195.9 471.6,193.9 473.1,192.4 479.8,189.0 486.8,187.9 486.8,215.7ZM446.7,212.9 442.2,212.6 437.7,210.7 434.6,207.9 432.6,203.9 432.3,198.9 433.8,194.9 436.3,192.4 441.2,190.3 446.7,190.0 452.2,191.6 455.9,194.4 457.9,198.4 457.9,203.4 455.8,207.9 451.7,211.3 446.7,212.9ZM432.7,302.8 424.2,302.8 424.2,258.6 431.7,260.3 434.7,262.2 438.5,268.8 440.7,275.8 441.2,283.8 440.0,290.8 437.2,297.4 434.7,301.0 432.7,302.8Z"/>
<path fill="#D0E800" d="M486.8,88.7 482.8,88.6 479.3,87.6 476.3,85.9 475.3,84.0 476.1,75.0 477.9,70.5 479.8,68.0 481.8,66.5 484.3,65.4 486.8,65.0 486.8,88.7ZM486.8,213.3 481.3,212.6 476.8,209.9 473.6,205.9 472.4,200.9 473.3,196.4 475.9,192.9 480.8,190.4 486.8,189.3 486.8,213.3ZM447.7,210.0 444.2,210.3 440.7,209.4 437.7,207.5 435.8,204.9 434.9,201.4 435.3,197.9 437.0,194.9 439.7,192.8 444.2,191.7 448.7,192.3 452.2,194.3 454.6,197.4 455.2,201.4 454.0,205.4 451.2,208.4 447.7,210.0ZM426.2,301.8 424.2,302.0 424.2,261.5 429.2,262.6 431.2,263.9 433.2,266.0 435.2,269.0 437.2,273.3 438.6,280.3 438.1,287.8 435.6,294.3 433.7,297.1 431.2,299.5 428.7,301.0 426.2,301.8Z"/>
<path fill="#FFD800" d="M486.8,86.0 483.3,85.7 481.0,84.5 480.3,83.0 479.2,77.0 479.6,74.0 481.4,71.0 483.8,69.1 486.8,68.2 486.8,86.0ZM486.8,210.7 482.8,210.3 478.8,208.1 476.3,204.9 475.4,201.4 475.8,197.9 477.8,194.4 480.8,192.4 485.3,191.3 486.8,191.2 486.8,210.7ZM446.7,207.5 443.7,207.6 441.2,206.8 439.2,205.2 437.9,202.9 437.6,200.4 438.2,197.9 439.7,195.8 442.2,194.2 445.2,193.8 447.8,194.4 450.2,196.0 451.9,198.4 452.3,201.4 451.3,204.4 449.3,206.4 446.7,207.5ZM426.7,297.9 424.2,298.3 424.2,265.2 428.2,266.4 431.7,269.5 434.8,274.8 436.0,280.3 435.7,286.3 433.7,291.7 430.7,295.6 426.7,297.9Z"/>
<path fill="#FFA000" d="M486.8,80.5 485.3,80.2 483.8,79.2 482.8,77.6 482.5,76.0 482.8,74.5 483.8,72.8 485.3,71.8 486.8,71.4 486.8,80.5ZM486.8,208.1 483.8,207.8 481.3,206.7 479.3,204.5 478.3,201.9 478.5,198.9 479.7,196.4 482.0,194.4 484.8,193.5 486.8,193.4 486.8,208.1ZM445.7,205.0 443.7,204.9 442.4,204.4 440.5,201.9 440.4,199.9 441.0,198.4 442.2,197.1 443.7,196.5 445.7,196.4 447.2,197.0 448.7,198.4 449.3,199.9 448.7,202.9 447.3,204.4 445.7,205.0ZM424.7,294.9 424.2,294.9 424.2,269.0 427.7,270.2 430.7,273.0 432.9,277.3 433.6,281.8 433.1,286.3 431.1,290.8 428.2,293.7 424.7,294.9Z"/>
<path fill="#FF8000" d="M486.8,76.5 485.8,75.5 486.8,74.4 486.8,76.5ZM486.8,205.5 484.8,205.4 483.3,204.8 481.9,203.4 481.1,201.4 481.3,199.4 482.0,197.9 483.3,196.7 485.3,195.9 486.8,195.9 486.8,205.5ZM445.7,202.0 444.2,202.2 443.2,201.4 443.1,200.4 443.7,199.3 445.2,199.1 446.2,199.9 446.4,200.9 445.7,202.0ZM425.2,292.4 424.2,292.5 424.2,271.8 427.2,272.6 429.6,274.8 431.2,277.8 431.9,281.3 431.5,285.3 430.0,288.8 427.7,291.3 425.2,292.4Z"/>
<path fill="#FF5000" d="M486.8,202.8 485.3,202.7 484.0,201.4 484.1,199.9 485.3,198.6 486.8,198.6 486.8,202.8ZM424.7,290.9 424.2,290.9 424.2,273.4 426.7,274.0 428.7,275.8 430.3,278.8 430.8,281.8 430.5,284.8 429.2,287.8 427.2,289.9 424.7,290.9Z"/>
<path fill="#FF2000" d="M425.7,289.5 424.2,289.8 424.2,274.5 426.2,275.0 428.2,276.7 429.4,278.8 430.0,281.3 429.8,283.8 429.0,286.3 427.7,288.2 425.7,289.5Z"/>
<path fill="#FF0000" d="M424.2,288.8 424.2,275.4 426.2,276.0 427.8,277.3 429.0,279.8 429.3,282.3 428.9,284.8 427.7,287.0 426.2,288.3 424.2,288.8Z"/>
<path fill="#FF0000" d="M425.2,287.9 424.2,288.1 424.2,276.2 425.7,276.5 427.2,277.7 428.7,281.3 428.0,285.3 426.7,287.1 425.2,287.9Z"/>
<path fill="#FF0000" d="M424.7,287.3 424.2,287.4 424.2,276.9 425.7,277.3 426.9,278.3 428.2,281.8 428.0,283.8 427.2,285.6 426.2,286.7 424.7,287.3Z"/>
<path fill="#FF0000" d="M425.2,286.5 424.2,286.7 424.2,277.5 425.7,278.0 426.6,278.8 427.6,281.3 427.2,284.5 425.2,286.5Z"/>
<path fill="#FF0000" d="M425.2,285.8 424.2,286.1 424.2,278.2 426.2,279.2 427.1,281.3 426.7,284.3 425.2,285.8Z"/>
<path fill="none" stroke="#fff" stroke-opacity="0.3" stroke-width="0.5" d="M446.7,164.4 447.3,163.9 447.5,162.9 446.2,161.9 443.7,161.9 442.2,162.9 442.4,163.9 443.7,164.6 445.2,164.8 446.7,164.4M486.8,164.7 484.4,167.9 483.4,173.4 484.2,174.9 486.8,176.5M447.7,167.9 451.2,166.3 453.2,163.9 452.7,161.9 449.6,159.9 445.7,158.9 442.2,159.2 437.2,160.8 434.7,162.9 435.3,164.9 438.2,167.0 443.7,168.3 447.7,167.9M486.8,160.8 483.6,162.4 479.7,166.4 477.1,170.9 476.4,173.4 476.8,174.4 478.2,175.4 486.8,178.9M460.0,173.4 458.8,172.1 457.8,169.9 457.7,164.4 457.1,161.9 454.7,159.4 450.7,157.4 445.2,156.6 437.7,157.3 427.7,160.0 425.3,161.4 424.2,162.9 425.0,165.4 427.6,168.4 429.7,169.7 432.9,170.9 444.2,173.5 460.0,173.4M486.8,158.1 482.3,159.0 478.8,160.8 471.3,169.0 466.0,173.4 467.9,174.9 471.3,176.4 486.8,180.4M486.8,152.9 474.8,154.9 471.2,156.9 467.8,160.1 465.8,160.8 464.3,160.1 459.6,155.9 454.7,154.1 435.7,152.0 428.7,152.2 424.2,152.9M424.2,177.0 435.2,177.9 444.7,180.1 453.2,181.1 486.8,182.4M442.9,34.0 454.7,40.7 465.1,44.0 470.8,46.9 474.8,48.1 486.8,50.4M486.8,40.3 481.5,34.0M486.8,149.7 476.3,150.9 465.8,153.7 453.2,150.8 436.2,149.2 424.2,148.8M424.2,181.4 463.8,183.7 477.8,183.7 486.8,183.2M434.6,34.0 435.2,37.0 436.7,39.3 445.4,44.5 465.4,51.0 477.3,53.4 486.8,54.6M486.8,145.3 466.3,147.7 456.3,146.9 439.2,146.7 424.2,145.8M424.2,185.5 444.7,184.9 473.3,185.5 486.8,184.1M424.2,45.8 435.7,47.6 447.7,51.2 455.8,54.8 473.8,58.9 480.3,57.0 486.8,56.5M424.2,113.0 425.7,112.2 426.3,110.9 425.6,109.4 424.2,108.8M486.8,140.0 476.3,141.0 467.3,142.5 454.7,142.6 442.7,144.0 424.2,143.6M424.2,188.1 444.2,186.1 463.8,187.3 472.8,187.1 480.3,185.5 486.8,185.0M486.8,221.2 486.0,222.4 486.8,223.8M445.3,240.3 446.1,239.3 446.3,237.8 445.7,236.7 444.2,236.1 442.8,237.3 442.7,238.8 443.7,240.4 445.3,240.3M486.8,127.0 465.8,127.0 463.8,126.6 460.8,124.8 456.6,120.9 449.4,116.9 446.2,113.9 445.1,111.4 446.6,106.9 447.0,100.5 449.1,96.0 450.4,90.5 452.4,87.5 454.3,85.5 456.5,84.5 462.8,83.2 467.3,83.0 468.5,81.0 470.7,71.0 473.8,65.3 475.9,63.5 478.8,62.1 486.8,60.3M486.8,94.7 482.8,95.0 478.8,94.4 478.6,96.0 478.8,97.0 480.2,98.5 484.4,101.9 486.8,103.4M424.2,124.6 435.7,124.5 445.2,124.9 448.7,125.6 450.6,126.9 450.2,127.9 448.1,129.4 432.7,136.1 428.2,139.2 424.2,140.4M486.8,217.3 482.3,217.5 479.3,217.1 476.1,215.9 472.3,213.6 466.8,214.9 455.2,214.9 453.2,214.1 447.2,215.4 441.2,214.8 436.5,212.9 432.9,209.9 430.3,205.4 429.5,200.9 430.1,196.9 431.9,193.4 435.2,190.9 440.1,188.9 444.7,188.3 449.7,188.9 454.8,190.9 458.8,193.8 468.8,193.4 472.3,190.7 477.0,188.4 481.3,187.3 486.8,186.8M424.2,256.0 433.7,258.8 447.7,258.8 456.3,257.5 458.1,256.3 460.3,252.8 460.8,245.8 461.6,244.3 465.4,241.3 468.8,237.2 471.3,236.3 475.8,235.6 480.3,236.6 482.3,237.8 483.1,238.8 483.6,240.8 483.4,251.3 484.7,252.8 486.8,253.7M486.8,264.4 477.3,266.6 453.2,266.8 449.5,267.8 447.3,269.3 443.4,274.3 443.6,285.3 442.9,290.3 441.7,294.3 441.9,295.8 445.1,302.8M486.8,91.5 481.8,91.4 477.3,90.1 472.7,87.5 470.9,85.5 470.7,84.5 472.1,81.0 473.3,73.0 476.0,67.5 477.9,65.5 480.2,64.0 486.8,62.4M424.2,132.2 425.9,133.4 426.4,135.4 425.7,137.9 424.2,139.0M486.8,215.7 483.3,215.6 480.3,215.0 474.9,211.9 472.5,209.4 470.9,206.9 469.9,204.4 469.5,200.9 469.7,198.4 470.5,195.9 471.6,193.9 473.1,192.4 479.8,189.0 486.8,187.9M446.7,212.9 442.2,212.6 437.7,210.7 434.6,207.9 432.6,203.9 432.3,198.9 433.8,194.9 436.3,192.4 441.2,190.3 446.7,190.0 452.2,191.6 455.9,194.4 457.9,198.4 457.9,203.4 455.8,207.9 451.7,211.3 446.7,212.9M424.2,258.6 431.7,260.3 434.7,262.2 438.5,268.8 440.7,275.8 441.2,283.8 440.0,290.8 437.2,297.4 432.8,302.8M486.8,88.7 482.8,88.6 479.3,87.6 476.3,85.9 475.3,84.0 476.1,75.0 477.9,70.5 479.8,68.0 481.8,66.5 484.3,65.4 486.8,65.0M486.8,213.3 481.3,212.6 476.8,209.9 473.6,205.9 472.4,200.9 473.3,196.4 475.9,192.9 480.8,190.4 486.8,189.3M447.7,210.0 444.2,210.3 440.7,209.4 437.7,207.5 435.8,204.9 434.9,201.4 435.3,197.9 437.0,194.9 439.7,192.8 444.2,191.7 448.7,192.3 452.2,194.3 454.6,197.4 455.2,201.4 454.0,205.4 451.2,208.4 447.7,210.0M424.2,261.5 427.2,261.9 429.7,262.9 431.7,264.3 434.2,267.3 437.7,274.8 438.7,282.3 437.5,289.8 436.2,293.3 434.3,296.3 432.2,298.7 429.7,300.5 427.2,301.6 424.2,302.0M486.8,86.0 483.3,85.7 481.0,84.5 480.3,83.0 479.2,77.0 479.6,74.0 481.4,71.0 483.8,69.1 486.8,68.2M486.8,210.7 482.8,210.3 478.8,208.1 476.3,204.9 475.4,200.9 476.0,197.4 478.3,193.9 482.2,191.9 486.8,191.2M446.7,207.5 443.7,207.6 441.2,206.8 439.2,205.2 437.9,202.9 437.6,200.4 438.2,197.9 439.7,195.8 442.2,194.2 445.2,193.8 447.8,194.4 450.2,196.0 451.9,198.4 452.3,201.4 451.3,204.4 449.3,206.4 446.7,207.5M424.2,265.2 426.7,265.7 428.7,266.7 432.3,270.3 435.1,275.8 436.1,282.3 435.2,288.3 432.4,293.8 428.7,297.0 424.2,298.3M486.8,76.5 485.8,75.5 486.8,74.4M486.8,205.5 484.8,205.4 482.8,204.4 481.6,202.9 481.1,200.9 481.4,198.9 482.8,197.0 484.8,196.0 486.8,195.9M445.7,202.0 444.2,202.2 443.2,201.4 443.1,200.4 443.7,199.3 445.2,199.1 446.2,199.9 446.4,200.9 445.7,202.0M424.2,271.8 427.2,272.6 429.7,275.0 431.4,278.3 431.9,282.3 431.2,286.3 429.3,289.8 427.2,291.7 424.2,292.5M486.8,202.8 484.8,202.4 483.9,200.9 484.8,198.9 486.8,198.6M424.2,273.4 426.7,274.0 428.7,275.8 430.3,278.8 430.8,282.3 430.4,285.3 428.8,288.3 426.7,290.2 424.2,290.9M424.2,274.5 426.2,275.0 428.3,276.8 429.6,279.3 430.0,282.3 429.5,285.3 428.2,287.6 426.2,289.3 424.2,289.8M424.2,275.4 426.2,276.0 427.8,277.3 429.0,279.8 429.3,282.3 428.9,284.8 427.7,287.0 426.2,288.3 424.2,288.8M424.2,276.9 425.7,277.3 427.2,278.7 428.2,282.3 427.0,285.8 425.7,287.0 424.2,287.4M424.2,277.5 425.7,278.0 426.7,278.9 427.7,282.3 426.7,285.3 425.7,286.3 424.2,286.7M424.2,278.2 426.3,279.3 427.2,282.3 426.2,285.1 424.2,286.1"/>
<path fill="none" stroke="#000" stroke-opacity="0.55" stroke-width="0.6" d="M486.8,155.5 479.8,156.4 476.1,157.4 470.6,163.4 467.8,165.2 465.8,165.6 463.1,164.4 457.0,157.4 453.2,155.9 446.7,154.9 439.7,154.7 424.2,156.0M424.2,173.6 454.2,178.6 486.8,181.5M445.2,58.5 443.2,58.6 441.5,57.5 441.0,55.0 442.2,53.4 444.7,53.1 446.7,54.5 446.8,57.0 445.2,58.5M424.2,83.1 435.7,83.1 443.2,82.5 456.8,79.4 465.8,76.9 468.3,68.3 469.7,65.5 471.5,63.5 474.5,61.5 478.8,59.7 486.8,58.3M424.2,115.3 427.9,113.9 428.8,112.9 429.4,111.4 429.1,109.9 428.0,108.4 426.2,107.2 424.2,106.7M486.8,134.3 476.3,135.6 450.2,136.5 442.6,137.9 431.8,140.9 424.2,141.7M424.2,191.5 432.7,190.1 437.7,188.1 442.7,187.2 448.7,187.4 455.8,189.1 467.8,189.6 471.3,189.4 474.6,187.9 479.3,186.7 486.8,185.9M424.2,224.9 424.4,225.9 426.9,228.9 429.0,233.9 431.6,237.8 439.2,245.3 441.2,246.5 443.7,247.3 449.0,246.8 452.4,244.8 456.3,239.4 459.0,231.4 459.0,228.4 457.5,222.9 456.5,220.9 454.9,219.9 448.2,219.0 434.2,218.5 426.2,219.2 424.3,219.9 424.2,220.4M486.8,218.6 483.7,219.4 482.7,220.9 482.4,222.9 482.8,224.9 483.8,226.3 486.8,227.7M486.8,271.8 481.3,273.9 469.6,276.8 463.3,279.7 456.3,281.8 454.7,282.7 453.1,286.3 453.2,293.3 458.6,302.8M486.8,80.5 485.3,80.2 483.8,79.2 482.8,77.6 482.5,76.0 482.8,74.5 483.8,72.8 485.3,71.8 486.8,71.4M486.8,208.1 483.8,207.8 480.8,206.3 479.0,203.9 478.2,200.9 478.8,197.9 480.8,195.2 483.3,193.8 486.8,193.4M445.7,205.0 443.7,204.9 442.4,204.4 440.5,201.9 440.4,199.9 441.0,198.4 442.2,197.1 443.7,196.5 445.7,196.4 447.2,197.0 448.7,198.4 449.3,199.9 448.7,202.9 447.3,204.4 445.7,205.0M424.2,269.0 427.7,270.2 431.0,273.3 432.9,277.3 433.6,282.3 432.9,286.8 430.7,291.3 427.7,293.9 424.2,294.9M424.2,276.2 425.7,276.5 427.3,277.8 428.4,279.8 428.7,282.3 428.4,284.3 427.4,286.3 425.7,287.7 424.2,288.1"/>
<path d="M424.2,34v-3.5M424.2,302.8v3.5M445.1,34v-3.5M445.1,302.8v3.5M465.9,34v-3.5M465.9,302.8v3.5M486.8,34v-3.5M486.8,302.8v3.5M424.2,282.1h-3.5M486.8,282.1h3.5M424.2,240.8h-3.5M486.8,240.8h3.5M424.2,199.4h-3.5M486.8,199.4h3.5M424.2,158.1h-3.5M486.8,158.1h3.5M424.2,116.7h-3.5M486.8,116.7h3.5M424.2,75.4h-3.5M486.8,75.4h3.5M424.2,34.0h-3.5M486.8,34.0h3.5" stroke="#8a8a8a" stroke-width="0.8" fill="none"/>
<rect x="424.2" y="34" width="62.60" height="268.80" fill="none" stroke="#c8c8c8" stroke-width="0.5"/>
<text x="417.6" y="287.3" text-anchor="end" font-size="12">2</text>
<text x="417.6" y="246.0" text-anchor="end" font-size="12">4</text>
<text x="417.6" y="204.6" text-anchor="end" font-size="12">6</text>
<text x="417.6" y="163.3" text-anchor="end" font-size="12">8</text>
<text x="417.6" y="121.9" text-anchor="end" font-size="12">10</text>
<text x="417.6" y="80.6" text-anchor="end" font-size="12">12</text>
<text x="417.6" y="39.2" text-anchor="end" font-size="12">14</text>
<text x="422.2" y="318.6" text-anchor="middle" font-size="12">1</text>
<text x="443.1" y="318.6" text-anchor="middle" font-size="12">2</text>
<text x="463.9" y="318.6" text-anchor="middle" font-size="12">3</text>
<text x="484.8" y="318.6" text-anchor="middle" font-size="12">4</text>
<rect x="509.5" y="72.50" width="13.00" height="8.26" fill="#FF0000"/>
<rect x="509.5" y="80.46" width="13.00" height="8.26" fill="#FF0000"/>
<rect x="509.5" y="88.42" width="13.00" height="8.26" fill="#FF0000"/>
<rect x="509.5" y="96.38" width="13.00" height="8.26" fill="#FF0000"/>
<rect x="509.5" y="104.33" width="13.00" height="8.26" fill="#FF0000"/>
<rect x="509.5" y="112.29" width="13.00" height="8.26" fill="#FF2000"/>
<rect x="509.5" y="120.25" width="13.00" height="8.26" fill="#FF5000"/>
<rect x="509.5" y="128.21" width="13.00" height="8.26" fill="#FF8000"/>
<rect x="509.5" y="136.17" width="13.00" height="8.26" fill="#FFA000"/>
<rect x="509.5" y="144.12" width="13.00" height="8.26" fill="#FFD800"/>
<rect x="509.5" y="152.08" width="13.00" height="8.26" fill="#D0E800"/>
<rect x="509.5" y="160.04" width="13.00" height="8.26" fill="#60B800"/>
<rect x="509.5" y="168.00" width="13.00" height="8.26" fill="#00A000"/>
<rect x="509.5" y="175.96" width="13.00" height="8.26" fill="#00A840"/>
<rect x="509.5" y="183.92" width="13.00" height="8.26" fill="#00C070"/>
<rect x="509.5" y="191.88" width="13.00" height="8.26" fill="#00D8A8"/>
<rect x="509.5" y="199.83" width="13.00" height="8.26" fill="#00F0E0"/>
<rect x="509.5" y="207.79" width="13.00" height="8.26" fill="#00FFFF"/>
<rect x="509.5" y="215.75" width="13.00" height="8.26" fill="#00C0FF"/>
<rect x="509.5" y="223.71" width="13.00" height="8.26" fill="#0080FF"/>
<rect x="509.5" y="231.67" width="13.00" height="8.26" fill="#0040FF"/>
<rect x="509.5" y="239.62" width="13.00" height="8.26" fill="#0000D0"/>
<rect x="509.5" y="247.58" width="13.00" height="8.26" fill="#000090"/>
<rect x="509.5" y="255.54" width="13.00" height="8.26" fill="#000000"/>
<path d="M509.5,80.46h13.00M509.5,88.42h13.00M509.5,96.38h13.00M509.5,104.33h13.00M509.5,112.29h13.00M509.5,120.25h13.00M509.5,128.21h13.00M509.5,136.17h13.00M509.5,144.12h13.00M509.5,152.08h13.00M509.5,160.04h13.00M509.5,168.00h13.00M509.5,175.96h13.00M509.5,183.92h13.00M509.5,191.88h13.00M509.5,199.83h13.00M509.5,207.79h13.00M509.5,215.75h13.00M509.5,223.71h13.00M509.5,231.67h13.00M509.5,239.62h13.00M509.5,247.58h13.00M509.5,255.54h13.00" stroke="#000" stroke-opacity="0.25" stroke-width="0.6"/>
<text x="524.8" y="82.86" font-size="6.6" fill="#222">2.8E-06</text>
<text x="524.8" y="90.82" font-size="6.6" fill="#222">2.6E-06</text>
<text x="524.8" y="98.78" font-size="6.6" fill="#222">2.4E-06</text>
<text x="524.8" y="106.73" font-size="6.6" fill="#222">2.2E-06</text>
<text x="524.8" y="114.69" font-size="6.6" fill="#222">2E-06</text>
<text x="524.8" y="122.65" font-size="6.6" fill="#222">1.8E-06</text>
<text x="524.8" y="130.61" font-size="6.6" fill="#222">1.6E-06</text>
<text x="524.8" y="138.57" font-size="6.6" fill="#222">1.4E-06</text>
<text x="524.8" y="146.53" font-size="6.6" fill="#222">1.2E-06</text>
<text x="524.8" y="154.48" font-size="6.6" fill="#222">1E-06</text>
<text x="524.8" y="162.44" font-size="6.6" fill="#222">8E-07</text>
<text x="524.8" y="170.40" font-size="6.6" fill="#222">6E-07</text>
<text x="524.8" y="178.36" font-size="6.6" fill="#222">4E-07</text>
<text x="524.8" y="186.32" font-size="6.6" fill="#222">2E-07</text>
<text x="524.8" y="194.28" font-size="6.6" fill="#222">0</text>
<text x="524.8" y="202.23" font-size="6.6" fill="#222">-2E-07</text>
<text x="524.8" y="210.19" font-size="6.6" fill="#222">-4E-07</text>
<text x="524.8" y="218.15" font-size="6.6" fill="#222">-6E-07</text>
<text x="524.8" y="226.11" font-size="6.6" fill="#222">-8E-07</text>
<text x="524.8" y="234.07" font-size="6.6" fill="#222">-1E-06</text>
<text x="524.8" y="242.03" font-size="6.6" fill="#222">-1.2E-06</text>
<text x="524.8" y="249.98" font-size="6.6" fill="#222">-1.4E-06</text>
<text x="524.8" y="257.94" font-size="6.6" fill="#222">-1.6E-06</text>
<text x="524.8" y="265.90" font-size="6.6" fill="#222">-1.8E-06</text>
<text x="415.7" y="21.2" font-family="Liberation Serif, serif" font-weight="bold" font-size="17">8h-i<tspan font-size="10.5" dy="1.6">g</tspan></text><text x="456.3" y="21.2" font-family="Liberation Serif, serif" font-weight="bold" font-size="17">ig(A/cm<tspan font-size="15" dy="-5.8">2</tspan><tspan dy="5.8">)</tspan></text>
<rect x="566.8" y="32.2" width="63.00" height="270.60" fill="#000090"/>
<path fill="#0020FF" d="M629.8,302.8 566.8,302.8 566.8,32.2 629.8,32.2 629.8,167.5 618.8,169.2 613.1,171.3 611.5,172.3 610.3,173.8 608.8,177.8 609.3,178.8 611.1,179.8 617.3,181.4 629.8,181.3 629.8,302.8Z"/>
<path fill="#0060FF" d="M629.8,302.8 566.8,302.8 566.8,32.2 629.8,32.2 629.8,162.3 623.8,163.0 619.1,164.2 609.3,169.0 607.3,170.5 606.1,172.3 604.5,177.8 605.0,179.3 606.7,180.8 613.3,183.4 618.3,184.4 629.8,184.5 629.8,302.8Z"/>
<path fill="#00B0FF" d="M629.8,302.8 566.8,302.8 566.8,32.2 629.8,32.2 629.8,158.6 617.7,161.2 612.9,163.2 608.8,165.6 606.3,167.8 603.4,171.3 601.8,175.0 601.2,177.8 601.6,179.3 603.3,181.1 606.8,183.4 610.3,184.8 618.3,186.4 629.8,186.4 629.8,302.8Z"/>
<path fill="#00FFFF" d="M629.8,302.8 566.8,302.8 566.8,32.2 629.8,32.2 629.8,155.9 616.3,159.2 610.9,161.2 606.8,163.5 604.3,165.8 601.0,170.3 598.8,175.3 598.3,177.8 598.9,179.8 601.3,182.5 603.7,184.3 607.3,185.8 617.8,188.2 629.8,188.3 629.8,302.8Z"/>
<path fill="#00F0E0" d="M629.8,302.8 566.8,302.8 566.8,32.2 629.8,32.2 629.8,153.9 616.8,156.7 608.3,159.8 603.5,162.2 601.0,164.7 597.5,170.8 596.0,174.8 595.5,177.8 596.2,180.3 598.9,183.8 601.3,185.5 604.8,187.0 611.8,189.2 617.3,190.2 629.8,190.4 629.8,302.8Z"/>
<path fill="#00D8A8" d="M629.8,302.8 566.8,302.8 566.8,32.2 629.8,32.2 629.8,151.9 620.3,153.6 613.8,155.3 603.7,159.2 599.3,161.5 597.2,163.7 593.4,171.8 592.2,177.8 592.9,180.3 596.0,184.8 598.3,186.7 602.3,188.5 617.3,192.3 629.8,192.5 629.8,302.8Z"/>
<path fill="#00C070" d="M629.8,302.8 566.8,302.8 566.8,180.0 568.2,178.8 568.4,177.8 566.8,176.1 566.8,32.2 629.8,32.2 629.8,149.4 620.3,151.1 611.3,153.5 596.3,159.7 592.8,162.8 588.2,171.3 587.8,172.8 587.8,178.3 588.5,180.3 591.8,185.8 596.3,189.1 601.8,191.1 613.8,193.9 618.8,194.6 629.8,194.6 629.8,302.8Z"/>
<path fill="#00A840" d="M578.3,162.3 566.8,162.3 566.8,32.2 629.8,32.2 629.8,146.7 619.8,148.2 610.8,150.6 595.7,156.2 586.3,160.7 578.3,162.3ZM629.8,302.8 566.8,302.8 566.8,188.3 575.8,190.0 588.3,190.5 599.8,193.9 612.3,196.2 618.3,196.6 629.8,196.7 629.8,302.8Z"/>
<path fill="#00A000" d="M579.8,156.8 566.8,157.1 566.8,32.2 629.8,32.2 629.8,144.0 618.8,145.1 605.6,148.2 592.3,153.2 579.8,156.8ZM629.8,302.8 566.8,302.8 566.8,197.0 582.8,197.1 609.3,199.1 629.8,199.5 629.8,302.8Z"/>
<path fill="#A0D000" d="M570.8,150.3 566.8,150.4 566.8,32.2 629.8,32.2 629.8,140.8 616.8,141.8 596.3,145.7 583.8,149.1 570.8,150.3ZM629.8,302.8 566.8,302.8 566.8,202.2 582.8,201.6 616.3,203.8 629.8,203.9 629.8,302.8Z"/>
<path fill="#FFF000" d="M581.3,143.3 566.8,143.6 566.8,32.2 629.8,32.2 629.8,136.3 593.8,142.2 581.3,143.3ZM629.8,302.8 566.8,302.8 566.8,205.0 572.7,205.8 575.3,207.3 582.8,218.8 585.8,225.4 587.8,226.9 594.3,226.6 597.8,224.3 606.1,220.3 617.3,210.1 623.3,206.9 629.8,205.8 629.8,302.8Z"/>
<path fill="#FFA800" d="M596.3,137.8 585.8,138.0 574.8,135.8 566.8,134.9 566.8,63.4 568.8,61.7 570.1,59.7 571.6,55.7 572.0,53.2 570.9,46.7 569.5,44.7 566.8,42.6 566.8,32.2 629.8,32.2 629.8,99.8 628.6,104.7 629.0,110.2 628.8,118.2 625.8,130.2 624.9,131.7 623.8,132.5 619.2,134.2 605.3,136.9 596.3,137.8ZM608.3,302.8 566.8,302.8 566.8,206.5 570.4,207.8 572.3,209.5 586.3,237.7 587.8,239.2 593.8,238.1 596.3,235.3 599.8,229.8 602.3,227.3 613.8,219.8 624.3,209.3 629.8,207.3 629.8,276.8 624.1,280.8 618.8,287.8 613.8,291.8 609.4,296.3 608.8,297.3 608.8,302.8 608.3,302.8ZM629.8,302.8 619.3,302.8 621.8,301.8 626.0,295.3 629.8,292.4 629.8,302.8Z"/>
<path fill="#FF7000" d="M609.3,131.2 596.8,131.6 585.8,129.1 582.2,126.7 580.9,121.2 580.0,119.7 569.8,114.9 566.8,114.0 566.8,81.5 575.1,79.7 584.7,75.7 586.5,74.2 587.8,69.2 587.6,62.7 584.4,58.7 582.3,52.2 579.8,48.3 577.0,42.2 572.3,38.8 571.5,37.7 572.0,32.2 629.8,32.2 629.8,89.4 626.6,92.7 624.6,98.7 623.9,104.7 624.4,109.7 624.3,116.9 622.5,121.7 617.8,128.7 614.8,130.4 609.3,131.2ZM598.8,302.8 566.8,302.8 566.8,208.1 568.5,209.3 569.8,211.3 576.2,224.8 582.1,238.8 586.0,245.3 587.8,246.4 592.3,245.8 594.4,244.8 605.3,229.8 616.3,221.3 625.9,211.8 629.8,209.1 629.8,266.4 626.3,270.4 617.8,276.2 613.5,279.8 604.3,289.5 601.3,294.5 598.8,302.8Z"/>
<path fill="#FF3000" d="M610.8,126.8 608.3,127.0 597.3,125.7 594.7,119.7 589.5,114.7 585.8,112.0 582.8,108.5 572.8,102.6 566.8,98.6 566.8,86.5 576.3,84.4 589.1,79.7 594.2,75.7 597.3,69.2 597.1,67.2 595.3,61.7 590.9,51.2 589.4,49.2 585.0,45.2 579.5,37.7 577.9,34.7 577.3,32.2 629.8,32.2 629.8,84.2 621.2,87.7 619.8,88.8 618.7,90.7 617.2,94.2 616.4,99.2 616.5,105.2 617.6,109.7 617.8,116.7 614.5,124.2 612.8,125.9 610.8,126.8ZM592.3,302.8 566.8,302.8 566.8,284.9 569.3,283.7 570.2,281.8 569.2,280.3 566.8,279.2 566.8,210.7 573.0,224.8 576.8,236.0 579.1,241.3 584.5,247.8 585.8,248.6 587.8,249.0 594.3,248.6 597.7,246.8 599.8,244.3 603.3,238.6 610.5,229.8 629.8,212.3 629.8,259.6 622.0,266.8 605.2,276.3 601.3,279.1 598.3,282.0 596.1,285.3 594.2,290.8 593.0,300.3 592.3,302.8Z"/>
<path fill="#FF0000" d="M629.8,76.0 623.3,76.0 618.8,75.3 616.3,74.1 612.8,71.4 610.7,69.2 609.1,66.7 606.0,59.7 605.7,57.2 606.3,53.2 606.5,48.2 606.1,46.7 603.8,45.5 595.8,44.3 591.3,42.7 587.3,39.0 582.6,32.2 623.3,32.2 625.3,35.2 629.8,37.4 629.8,76.0ZM608.8,118.9 605.8,119.0 601.8,117.3 597.8,114.5 594.5,111.2 587.1,100.2 586.5,96.2 587.8,93.9 589.8,93.6 594.3,95.6 598.8,98.9 601.8,102.1 607.6,109.7 609.9,114.2 610.4,116.7 609.8,118.1 608.8,118.9ZM567.3,269.8 566.8,269.8 566.8,215.5 570.9,228.8 573.8,240.3 575.7,245.3 582.3,252.8 585.3,254.5 587.8,255.0 596.8,254.9 599.8,254.0 603.0,249.8 608.3,239.8 613.3,232.9 617.6,227.8 629.8,216.5 629.8,254.1 626.6,255.8 616.8,262.6 606.8,265.6 599.3,268.8 591.8,269.4 576.3,269.3 567.3,269.8ZM584.8,302.8 566.8,302.8 566.8,292.4 579.3,294.2 583.8,295.7 585.1,297.3 585.2,302.8 584.8,302.8Z"/>
<path fill="#FF0000" d="M629.8,63.4 622.8,61.7 620.4,60.2 619.4,58.7 619.4,47.2 620.8,45.0 623.8,43.5 629.8,42.6 629.8,63.4ZM629.8,230.8 629.8,230.3 629.8,230.8Z"/>
<path fill="none" stroke="#fff" stroke-opacity="0.3" stroke-width="0.5" d="M629.8,167.5 618.8,169.2 613.1,171.3 611.5,172.3 610.3,173.8 608.8,177.8 609.3,178.8 611.1,179.8 617.3,181.4 629.8,181.3M629.8,162.3 623.8,163.0 619.1,164.2 609.3,169.0 607.3,170.5 606.1,172.3 604.5,177.8 605.0,179.3 606.7,180.8 613.3,183.4 618.3,184.4 629.8,184.5M629.8,158.6 617.7,161.2 612.9,163.2 608.8,165.6 606.3,167.8 603.4,171.3 601.8,175.0 601.2,177.8 601.6,179.3 603.3,181.1 606.8,183.4 610.3,184.8 618.3,186.4 629.8,186.4M629.8,153.9 616.8,156.7 608.3,159.8 603.5,162.2 601.0,164.7 597.5,170.8 596.0,174.8 595.5,177.8 596.2,180.3 598.9,183.8 601.3,185.5 604.8,187.0 611.8,189.2 617.3,190.2 629.8,190.4M629.8,151.9 620.3,153.6 613.8,155.3 603.7,159.2 599.3,161.5 597.2,163.7 593.4,171.8 592.2,177.8 592.9,180.3 596.0,184.8 598.3,186.7 602.3,188.5 617.3,192.3 629.8,192.5M629.8,149.4 620.3,151.1 611.3,153.5 596.3,159.7 592.8,162.8 588.2,171.3 587.8,172.8 587.8,178.3 588.5,180.3 591.8,185.8 596.3,189.1 601.8,191.1 613.8,193.9 618.8,194.6 629.8,194.6M566.8,180.0 568.2,178.8 568.4,177.8 566.8,176.1M629.8,146.7 619.3,148.3 608.8,151.2 595.7,156.2 584.3,161.3 578.3,162.3 566.8,162.3M566.8,188.3 575.8,190.0 588.3,190.5 599.8,193.9 612.3,196.2 618.3,196.6 629.8,196.7M629.8,140.8 614.4,142.2 595.8,145.9 582.8,149.3 566.8,150.4M566.8,202.2 582.8,201.6 616.3,203.8 629.8,203.9M629.8,136.3 624.3,137.5 590.8,142.6 578.3,143.5 566.8,143.6M566.8,205.0 572.7,205.8 575.3,207.3 582.8,218.8 585.8,225.4 587.8,226.9 594.3,226.6 597.8,224.3 606.1,220.3 617.3,210.1 623.3,206.9 629.8,205.8M566.8,63.4 568.8,61.7 570.1,59.7 571.6,55.7 572.0,53.2 570.9,46.7 569.5,44.7 566.8,42.6M629.8,99.8 628.6,104.7 629.0,115.7 628.4,120.7 625.6,130.7 623.4,132.7 617.3,134.7 605.8,136.8 589.3,138.1 583.5,137.7 574.8,135.8 566.8,134.9M566.8,206.5 570.4,207.8 572.3,209.5 586.3,237.7 587.8,239.2 593.8,238.1 596.3,235.3 599.8,229.8 602.3,227.3 613.8,219.8 624.3,209.3 629.8,207.3M629.8,276.8 624.1,280.8 618.8,287.8 613.8,291.8 609.4,296.3 608.8,297.3 608.8,302.8M619.3,302.8 621.8,301.8 626.0,295.3 629.8,292.4M566.8,81.5 575.1,79.7 584.7,75.7 586.5,74.2 587.7,69.7 587.6,62.7 584.4,58.7 582.5,52.7 579.8,48.2 577.3,42.6 576.0,41.2 572.2,38.7 571.5,37.7 572.0,32.2M629.8,89.4 626.6,92.7 624.7,98.2 623.9,104.2 624.5,115.2 623.8,118.7 622.5,121.7 618.7,127.7 615.8,130.0 610.3,131.2 597.8,131.7 586.8,129.4 584.0,128.2 582.2,126.7 580.9,121.2 580.0,119.7 569.8,114.9 566.8,114.0M566.8,208.1 568.5,209.3 569.8,211.3 576.2,224.8 582.1,238.8 586.0,245.3 587.8,246.4 592.3,245.8 594.4,244.8 605.3,229.8 616.3,221.3 625.9,211.8 629.8,209.1M629.8,266.4 626.3,270.4 617.8,276.2 613.5,279.8 604.3,289.5 601.2,294.8 599.0,302.8M629.8,76.0 623.3,76.0 618.8,75.3 616.3,74.1 612.8,71.4 610.7,69.2 609.1,66.7 606.0,59.7 605.7,57.2 606.3,53.2 606.5,48.2 606.1,46.7 603.8,45.5 595.8,44.3 591.3,42.7 587.3,39.0 582.6,32.2M623.3,32.2 625.3,35.2 629.8,37.4M608.8,118.9 605.8,119.0 601.8,117.3 597.8,114.5 594.5,111.2 587.1,100.2 586.5,96.2 587.8,93.9 589.8,93.6 594.3,95.6 598.8,98.9 601.8,102.1 607.6,109.7 609.9,114.2 610.4,116.7 609.8,118.1 608.8,118.9M566.8,215.5 570.9,228.8 573.8,240.3 575.7,245.3 582.3,252.8 585.3,254.5 587.8,255.0 596.8,254.9 599.8,254.0 603.0,249.8 608.3,239.8 613.3,232.9 617.6,227.8 629.8,216.5M629.8,254.1 626.6,255.8 616.8,262.6 606.8,265.6 599.3,268.8 591.8,269.4 576.3,269.3 566.8,269.8M566.8,292.4 578.8,294.1 583.3,295.4 585.1,297.3 585.2,302.8M629.8,63.4 625.8,62.7 622.3,61.4 619.9,59.7 619.3,58.2 619.3,47.7 619.8,46.2 621.2,44.7 623.3,43.7 629.8,42.6M629.8,230.8 629.8,230.3"/>
<path fill="none" stroke="#000" stroke-opacity="0.55" stroke-width="0.6" d="M629.8,155.9 616.3,159.2 610.9,161.2 606.8,163.5 604.3,165.8 601.0,170.3 598.8,175.3 598.3,177.8 598.9,179.8 601.3,182.5 603.7,184.3 607.3,185.8 617.8,188.2 629.8,188.3M629.8,144.0 618.8,145.1 605.6,148.2 592.3,153.2 579.3,156.9 566.8,157.1M566.8,197.0 582.8,197.1 609.3,199.1 629.8,199.5M566.8,86.5 576.3,84.4 589.1,79.7 594.2,75.7 597.3,69.2 597.1,67.2 595.3,61.7 590.9,51.2 589.4,49.2 585.0,45.2 579.5,37.7 577.9,34.7 577.3,32.2M629.8,84.2 621.2,87.7 619.8,88.8 618.7,90.7 617.2,94.2 616.4,99.2 616.5,105.2 617.6,109.7 617.8,116.7 614.5,124.2 612.8,125.9 610.8,126.8 608.3,127.0 597.3,125.7 594.7,119.7 589.5,114.7 585.8,112.0 582.8,108.5 572.8,102.6 566.8,98.6M566.8,210.7 573.0,224.8 576.8,236.0 579.1,241.3 584.5,247.8 585.8,248.6 587.8,249.0 594.3,248.6 597.7,246.8 599.8,244.3 603.3,238.6 610.5,229.8 629.8,212.3M629.8,259.6 622.0,266.8 605.2,276.3 601.3,279.1 598.3,282.0 596.1,285.3 594.2,290.8 592.6,302.8M566.8,284.9 569.3,283.7 570.2,281.8 569.2,280.3 566.8,279.2"/>
<path d="M566.8,32.2v-3.5M566.8,302.8v3.5M587.8,32.2v-3.5M587.8,302.8v3.5M608.8,32.2v-3.5M608.8,302.8v3.5M629.8,32.2v-3.5M629.8,302.8v3.5M566.8,282.0h-3.5M629.8,282.0h3.5M566.8,240.4h-3.5M629.8,240.4h3.5M566.8,198.7h-3.5M629.8,198.7h3.5M566.8,157.1h-3.5M629.8,157.1h3.5M566.8,115.5h-3.5M629.8,115.5h3.5M566.8,73.8h-3.5M629.8,73.8h3.5M566.8,32.2h-3.5M629.8,32.2h3.5" stroke="#8a8a8a" stroke-width="0.8" fill="none"/>
<rect x="566.8" y="32.2" width="63.00" height="270.60" fill="none" stroke="#c8c8c8" stroke-width="0.5"/>
<text x="560.2" y="287.2" text-anchor="end" font-size="12">2</text>
<text x="560.2" y="245.6" text-anchor="end" font-size="12">4</text>
<text x="560.2" y="203.9" text-anchor="end" font-size="12">6</text>
<text x="560.2" y="162.3" text-anchor="end" font-size="12">8</text>
<text x="560.2" y="120.7" text-anchor="end" font-size="12">10</text>
<text x="560.2" y="79.0" text-anchor="end" font-size="12">12</text>
<text x="560.2" y="37.4" text-anchor="end" font-size="12">14</text>
<text x="564.8" y="318.6" text-anchor="middle" font-size="12">1</text>
<text x="585.8" y="318.6" text-anchor="middle" font-size="12">2</text>
<text x="606.8" y="318.6" text-anchor="middle" font-size="12">3</text>
<text x="627.8" y="318.6" text-anchor="middle" font-size="12">4</text>
<rect x="647" y="75.90" width="12.00" height="9.21" fill="#FF0000"/>
<rect x="647" y="84.81" width="12.00" height="9.21" fill="#FF0000"/>
<rect x="647" y="93.72" width="12.00" height="9.21" fill="#FF0000"/>
<rect x="647" y="102.63" width="12.00" height="9.21" fill="#FF0000"/>
<rect x="647" y="111.54" width="12.00" height="9.21" fill="#FF0000"/>
<rect x="647" y="120.45" width="12.00" height="9.21" fill="#FF3000"/>
<rect x="647" y="129.36" width="12.00" height="9.21" fill="#FF7000"/>
<rect x="647" y="138.27" width="12.00" height="9.21" fill="#FFA800"/>
<rect x="647" y="147.18" width="12.00" height="9.21" fill="#FFF000"/>
<rect x="647" y="156.09" width="12.00" height="9.21" fill="#A0D000"/>
<rect x="647" y="165.00" width="12.00" height="9.21" fill="#00A000"/>
<rect x="647" y="173.90" width="12.00" height="9.21" fill="#00A840"/>
<rect x="647" y="182.81" width="12.00" height="9.21" fill="#00C070"/>
<rect x="647" y="191.72" width="12.00" height="9.21" fill="#00D8A8"/>
<rect x="647" y="200.63" width="12.00" height="9.21" fill="#00F0E0"/>
<rect x="647" y="209.54" width="12.00" height="9.21" fill="#00FFFF"/>
<rect x="647" y="218.45" width="12.00" height="9.21" fill="#00B0FF"/>
<rect x="647" y="227.36" width="12.00" height="9.21" fill="#0060FF"/>
<rect x="647" y="236.27" width="12.00" height="9.21" fill="#0020FF"/>
<rect x="647" y="245.18" width="12.00" height="9.21" fill="#000090"/>
<rect x="647" y="254.09" width="12.00" height="9.21" fill="#000000"/>
<path d="M647,84.81h12.00M647,93.72h12.00M647,102.63h12.00M647,111.54h12.00M647,120.45h12.00M647,129.36h12.00M647,138.27h12.00M647,147.18h12.00M647,156.09h12.00M647,165.00h12.00M647,173.90h12.00M647,182.81h12.00M647,191.72h12.00M647,200.63h12.00M647,209.54h12.00M647,218.45h12.00M647,227.36h12.00M647,236.27h12.00M647,245.18h12.00M647,254.09h12.00" stroke="#000" stroke-opacity="0.25" stroke-width="0.6"/>
<text x="661.3" y="87.21" font-size="6.6" fill="#222">9E-07</text>
<text x="661.3" y="96.12" font-size="6.6" fill="#222">8E-07</text>
<text x="661.3" y="105.03" font-size="6.6" fill="#222">7E-07</text>
<text x="661.3" y="113.94" font-size="6.6" fill="#222">6E-07</text>
<text x="661.3" y="122.85" font-size="6.6" fill="#222">5E-07</text>
<text x="661.3" y="131.76" font-size="6.6" fill="#222">4E-07</text>
<text x="661.3" y="140.67" font-size="6.6" fill="#222">3E-07</text>
<text x="661.3" y="149.58" font-size="6.6" fill="#222">2E-07</text>
<text x="661.3" y="158.49" font-size="6.6" fill="#222">1E-07</text>
<text x="661.3" y="167.40" font-size="6.6" fill="#222">0</text>
<text x="661.3" y="176.30" font-size="6.6" fill="#222">-1E-07</text>
<text x="661.3" y="185.21" font-size="6.6" fill="#222">-2E-07</text>
<text x="661.3" y="194.12" font-size="6.6" fill="#222">-3E-07</text>
<text x="661.3" y="203.03" font-size="6.6" fill="#222">-4E-07</text>
<text x="661.3" y="211.94" font-size="6.6" fill="#222">-5E-07</text>
<text x="661.3" y="220.85" font-size="6.6" fill="#222">-6E-07</text>
<text x="661.3" y="229.76" font-size="6.6" fill="#222">-7E-07</text>
<text x="661.3" y="238.67" font-size="6.6" fill="#222">-8E-07</text>
<text x="661.3" y="247.58" font-size="6.6" fill="#222">-9E-07</text>
<text x="661.3" y="256.49" font-size="6.6" fill="#222">-1E-06</text>
<text x="661.3" y="265.40" font-size="6.6" fill="#222">-1.1E-06</text>
<text x="557" y="19.3" font-family="Liberation Serif, serif" font-weight="bold" font-size="17">12h-i<tspan font-size="10.5" dy="1.6">g</tspan></text><text x="610.0" y="19.3" font-family="Liberation Serif, serif" font-weight="bold" font-size="17">ig(A/cm<tspan font-size="15" dy="-5.8">2</tspan><tspan dy="5.8">)</tspan></text>
<text x="599.6" y="240.8" dy="2.3" transform="rotate(-52 599.6 240.8)" text-anchor="middle" font-size="6.6" font-weight="bold">4E-07</text>
</svg></body></html>
